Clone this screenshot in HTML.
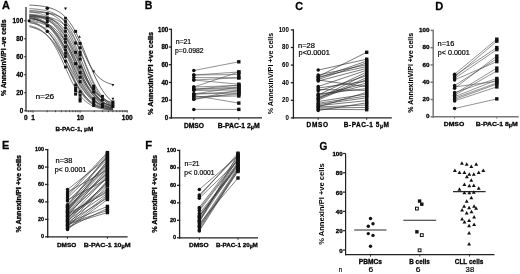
<!DOCTYPE html>
<html><head><meta charset="utf-8"><style>
html,body{margin:0;padding:0;background:#fff;width:520px;height:274px;overflow:hidden;}
svg{display:block;font-family:"Liberation Sans", sans-serif;filter:grayscale(1);}
</style></head><body>
<svg width="520" height="274" viewBox="0 0 520 274">
<rect width="520" height="274" fill="#fff"/>
<text x="2.10" y="9.00" font-size="11.4" font-weight="bold" stroke="#000" stroke-width="0.28" text-anchor="start" fill="#000" textLength="7.90" lengthAdjust="spacingAndGlyphs">A</text>
<line x1="26.00" y1="7.00" x2="26.00" y2="111.50" stroke="#222" stroke-width="1.2"/>
<line x1="24.20" y1="110.75" x2="26.00" y2="110.75" stroke="#222" stroke-width="1.1"/>
<text x="23.20" y="113.10" font-size="6.5" font-weight="bold" stroke="#000" stroke-width="0.28" text-anchor="end" fill="#000" textLength="3.53" lengthAdjust="spacingAndGlyphs">0</text>
<line x1="24.20" y1="92.75" x2="26.00" y2="92.75" stroke="#222" stroke-width="1.1"/>
<text x="23.20" y="95.10" font-size="6.5" font-weight="bold" stroke="#000" stroke-width="0.28" text-anchor="end" fill="#000" textLength="7.07" lengthAdjust="spacingAndGlyphs">20</text>
<line x1="24.20" y1="74.75" x2="26.00" y2="74.75" stroke="#222" stroke-width="1.1"/>
<text x="23.20" y="77.10" font-size="6.5" font-weight="bold" stroke="#000" stroke-width="0.28" text-anchor="end" fill="#000" textLength="7.07" lengthAdjust="spacingAndGlyphs">40</text>
<line x1="24.20" y1="56.75" x2="26.00" y2="56.75" stroke="#222" stroke-width="1.1"/>
<text x="23.20" y="59.10" font-size="6.5" font-weight="bold" stroke="#000" stroke-width="0.28" text-anchor="end" fill="#000" textLength="7.07" lengthAdjust="spacingAndGlyphs">60</text>
<line x1="24.20" y1="38.75" x2="26.00" y2="38.75" stroke="#222" stroke-width="1.1"/>
<text x="23.20" y="41.10" font-size="6.5" font-weight="bold" stroke="#000" stroke-width="0.28" text-anchor="end" fill="#000" textLength="7.07" lengthAdjust="spacingAndGlyphs">80</text>
<line x1="24.20" y1="20.75" x2="26.00" y2="20.75" stroke="#222" stroke-width="1.1"/>
<text x="23.20" y="23.10" font-size="6.5" font-weight="bold" stroke="#000" stroke-width="0.28" text-anchor="end" fill="#000" textLength="10.60" lengthAdjust="spacingAndGlyphs">100</text>
<line x1="26.00" y1="111.00" x2="127.60" y2="111.00" stroke="#333" stroke-width="1.0"/>
<line x1="33.00" y1="110.50" x2="33.00" y2="112.60" stroke="#333" stroke-width="0.9"/>
<line x1="47.18" y1="110.50" x2="47.18" y2="112.20" stroke="#333" stroke-width="0.9"/>
<line x1="55.47" y1="110.50" x2="55.47" y2="112.20" stroke="#333" stroke-width="0.9"/>
<line x1="61.36" y1="110.50" x2="61.36" y2="112.20" stroke="#333" stroke-width="0.9"/>
<line x1="65.92" y1="110.50" x2="65.92" y2="112.20" stroke="#333" stroke-width="0.9"/>
<line x1="69.65" y1="110.50" x2="69.65" y2="112.20" stroke="#333" stroke-width="0.9"/>
<line x1="72.80" y1="110.50" x2="72.80" y2="112.20" stroke="#333" stroke-width="0.9"/>
<line x1="75.54" y1="110.50" x2="75.54" y2="112.20" stroke="#333" stroke-width="0.9"/>
<line x1="77.94" y1="110.50" x2="77.94" y2="112.20" stroke="#333" stroke-width="0.9"/>
<line x1="80.10" y1="110.50" x2="80.10" y2="112.60" stroke="#333" stroke-width="0.9"/>
<line x1="94.28" y1="110.50" x2="94.28" y2="112.20" stroke="#333" stroke-width="0.9"/>
<line x1="102.57" y1="110.50" x2="102.57" y2="112.20" stroke="#333" stroke-width="0.9"/>
<line x1="108.46" y1="110.50" x2="108.46" y2="112.20" stroke="#333" stroke-width="0.9"/>
<line x1="113.02" y1="110.50" x2="113.02" y2="112.20" stroke="#333" stroke-width="0.9"/>
<line x1="116.75" y1="110.50" x2="116.75" y2="112.20" stroke="#333" stroke-width="0.9"/>
<line x1="119.90" y1="110.50" x2="119.90" y2="112.20" stroke="#333" stroke-width="0.9"/>
<line x1="122.64" y1="110.50" x2="122.64" y2="112.20" stroke="#333" stroke-width="0.9"/>
<line x1="125.04" y1="110.50" x2="125.04" y2="112.20" stroke="#333" stroke-width="0.9"/>
<line x1="127.20" y1="110.50" x2="127.20" y2="112.60" stroke="#333" stroke-width="0.9"/>
<line x1="28.44" y1="110.50" x2="28.44" y2="112.20" stroke="#333" stroke-width="0.9"/>
<line x1="30.84" y1="110.50" x2="30.84" y2="112.20" stroke="#333" stroke-width="0.9"/>
<text x="25.75" y="119.70" font-size="6.5" font-weight="bold" stroke="#000" stroke-width="0.28" text-anchor="middle" fill="#000">0</text>
<text x="33.00" y="119.70" font-size="6.5" font-weight="bold" stroke="#000" stroke-width="0.28" text-anchor="middle" fill="#000">1</text>
<text x="80.25" y="119.70" font-size="6.5" font-weight="bold" stroke="#000" stroke-width="0.28" text-anchor="middle" fill="#000">10</text>
<text x="127.20" y="119.70" font-size="6.5" font-weight="bold" stroke="#000" stroke-width="0.28" text-anchor="middle" fill="#000">100</text>
<text x="55.40" y="130.60" font-size="6.1" font-weight="bold" stroke="#000" stroke-width="0.28" text-anchor="start" fill="#000" textLength="37.80" lengthAdjust="spacingAndGlyphs">B-PAC-1, μM</text>
<text x="35.40" y="99.20" font-size="7.8" stroke="#000" stroke-width="0.2" text-anchor="start" fill="#000" textLength="18.90" lengthAdjust="spacingAndGlyphs">n=26</text>
<text x="6.08" y="57.80" font-size="6.6" font-weight="bold" stroke="#000" stroke-width="0.3" text-anchor="middle" fill="#000" transform="rotate(-90 6.08 57.80)" textLength="76.60" lengthAdjust="spacingAndGlyphs" dy="0">% AnnexinV/PI -ve cells</text>
<polyline points="29.43,5.05 30.37,5.10 31.31,5.15 32.25,5.20 33.19,5.26 34.13,5.33 35.07,5.40 36.01,5.47 36.95,5.56 37.89,5.65 38.83,5.75 39.76,5.86 40.70,5.97 41.64,6.10 42.58,6.24 43.52,6.39 44.46,6.56 45.40,6.74 46.34,6.93 47.28,7.14 48.22,7.37 49.16,7.62 50.10,7.89 51.03,8.19 51.97,8.51 52.91,8.85 53.85,9.23 54.79,9.63 55.73,10.07 56.67,10.55 57.61,11.06 58.55,11.62 59.49,12.21 60.43,12.86 61.37,13.55 62.31,14.30 63.24,15.10 64.18,15.95 65.12,16.87 66.06,17.86 67.00,18.91 67.94,20.02 68.88,21.21 69.82,22.47 70.76,23.81 71.70,25.23 72.64,26.72 73.58,28.29 74.51,29.93 75.45,31.66 76.39,33.45 77.33,35.33 78.27,37.27 79.21,39.27 80.15,41.34 81.09,43.47 82.03,45.64 82.97,47.86 83.91,50.12 84.85,52.40 85.78,54.70 86.72,57.01 87.66,59.33 88.60,61.64 89.54,63.93 90.48,66.20 91.42,68.44 92.36,70.64 93.30,72.79 94.24,74.89 95.18,76.94 96.12,78.91 97.06,80.82 97.99,82.66 98.93,84.43 99.87,86.12 100.81,87.73 101.75,89.26 102.69,90.72 103.63,92.10 104.57,93.40 105.51,94.63 106.45,95.79 107.39,96.87 108.33,97.89 109.26,98.85 110.20,99.74 111.14,100.57 112.08,101.35 113.02,102.07" fill="none" stroke="#222" stroke-width="0.7"/>
<polyline points="29.43,8.65 30.37,8.70 31.31,8.75 32.25,8.81 33.19,8.87 34.13,8.94 35.07,9.01 36.01,9.10 36.95,9.19 37.89,9.29 38.83,9.39 39.76,9.51 40.70,9.64 41.64,9.78 42.58,9.94 43.52,10.11 44.46,10.29 45.40,10.49 46.34,10.71 47.28,10.95 48.22,11.21 49.16,11.50 50.10,11.81 51.03,12.14 51.97,12.51 52.91,12.91 53.85,13.35 54.79,13.82 55.73,14.33 56.67,14.89 57.61,15.49 58.55,16.14 59.49,16.84 60.43,17.60 61.37,18.42 62.31,19.30 63.24,20.24 64.18,21.26 65.12,22.35 66.06,23.51 67.00,24.74 67.94,26.06 68.88,27.46 69.82,28.94 70.76,30.50 71.70,32.15 72.64,33.88 73.58,35.69 74.51,37.58 75.45,39.54 76.39,41.58 77.33,43.68 78.27,45.84 79.21,48.06 80.15,50.32 81.09,52.62 82.03,54.94 82.97,57.29 83.91,59.64 84.85,62.00 85.78,64.34 86.72,66.66 87.66,68.95 88.60,71.21 89.54,73.41 90.48,75.57 91.42,77.66 92.36,79.68 93.30,81.64 94.24,83.51 95.18,85.31 96.12,87.02 97.06,88.66 97.99,90.21 98.93,91.68 99.87,93.06 100.81,94.36 101.75,95.59 102.69,96.74 103.63,97.81 104.57,98.82 105.51,99.75 106.45,100.62 107.39,101.43 108.33,102.18 109.26,102.87 110.20,103.51 111.14,104.11 112.08,104.66 113.02,105.16" fill="none" stroke="#444" stroke-width="0.7"/>
<polyline points="29.43,10.44 30.37,10.49 31.31,10.54 32.25,10.60 33.19,10.67 34.13,10.74 35.07,10.82 36.01,10.91 36.95,11.00 37.89,11.11 38.83,11.22 39.76,11.35 40.70,11.49 41.64,11.64 42.58,11.81 43.52,12.00 44.46,12.20 45.40,12.42 46.34,12.67 47.28,12.93 48.22,13.22 49.16,13.54 50.10,13.89 51.03,14.27 51.97,14.69 52.91,15.14 53.85,15.64 54.79,16.18 55.73,16.77 56.67,17.41 57.61,18.10 58.55,18.85 59.49,19.66 60.43,20.54 61.37,21.49 62.31,22.51 63.24,23.60 64.18,24.78 65.12,26.03 66.06,27.37 67.00,28.80 67.94,30.32 68.88,31.92 69.82,33.61 70.76,35.39 71.70,37.26 72.64,39.21 73.58,41.23 74.51,43.33 75.45,45.50 76.39,47.72 77.33,50.00 78.27,52.32 79.21,54.67 80.15,57.04 81.09,59.43 82.03,61.81 82.97,64.19 83.91,66.54 84.85,68.86 85.78,71.13 86.72,73.36 87.66,75.53 88.60,77.63 89.54,79.66 90.48,81.60 91.42,83.47 92.36,85.25 93.30,86.95 94.24,88.55 95.18,90.07 96.12,91.50 97.06,92.84 97.99,94.10 98.93,95.28 99.87,96.37 100.81,97.40 101.75,98.34 102.69,99.22 103.63,100.04 104.57,100.79 105.51,101.48 106.45,102.12 107.39,102.71 108.33,103.25 109.26,103.75 110.20,104.20 111.14,104.62 112.08,105.00 113.02,105.35" fill="none" stroke="#333" stroke-width="0.7"/>
<polyline points="29.43,11.94 30.37,12.04 31.31,12.15 32.25,12.26 33.19,12.39 34.13,12.53 35.07,12.68 36.01,12.84 36.95,13.02 37.89,13.21 38.83,13.42 39.76,13.65 40.70,13.90 41.64,14.17 42.58,14.46 43.52,14.77 44.46,15.11 45.40,15.49 46.34,15.89 47.28,16.32 48.22,16.79 49.16,17.30 50.10,17.84 51.03,18.43 51.97,19.07 52.91,19.75 53.85,20.48 54.79,21.27 55.73,22.11 56.67,23.01 57.61,23.97 58.55,25.00 59.49,26.09 60.43,27.26 61.37,28.49 62.31,29.79 63.24,31.17 64.18,32.61 65.12,34.14 66.06,35.73 67.00,37.39 67.94,39.13 68.88,40.93 69.82,42.80 70.76,44.72 71.70,46.70 72.64,48.73 73.58,50.80 74.51,52.91 75.45,55.05 76.39,57.21 77.33,59.38 78.27,61.56 79.21,63.73 80.15,65.90 81.09,68.04 82.03,70.16 82.97,72.24 83.91,74.29 84.85,76.28 85.78,78.22 86.72,80.11 87.66,81.93 88.60,83.68 89.54,85.37 90.48,86.99 91.42,88.53 92.36,90.00 93.30,91.40 94.24,92.72 95.18,93.98 96.12,95.16 97.06,96.27 97.99,97.32 98.93,98.30 99.87,99.22 100.81,100.08 101.75,100.89 102.69,101.63 103.63,102.33 104.57,102.98 105.51,103.58 106.45,104.14 107.39,104.66 108.33,105.14 109.26,105.58 110.20,106.00 111.14,106.38 112.08,106.73 113.02,107.05" fill="none" stroke="#555" stroke-width="0.7"/>
<polyline points="29.43,11.91 30.37,11.92 31.31,11.94 32.25,11.97 33.19,11.99 34.13,12.02 35.07,12.05 36.01,12.09 36.95,12.12 37.89,12.17 38.83,12.22 39.76,12.27 40.70,12.33 41.64,12.40 42.58,12.47 43.52,12.55 44.46,12.65 45.40,12.75 46.34,12.86 47.28,12.99 48.22,13.13 49.16,13.29 50.10,13.47 51.03,13.66 51.97,13.88 52.91,14.12 53.85,14.39 54.79,14.68 55.73,15.01 56.67,15.37 57.61,15.77 58.55,16.21 59.49,16.69 60.43,17.23 61.37,17.81 62.31,18.45 63.24,19.16 64.18,19.93 65.12,20.76 66.06,21.68 67.00,22.66 67.94,23.73 68.88,24.88 69.82,26.12 70.76,27.44 71.70,28.85 72.64,30.34 73.58,31.92 74.51,33.59 75.45,35.33 76.39,37.14 77.33,39.02 78.27,40.95 79.21,42.94 80.15,44.95 81.09,47.00 82.03,49.05 82.97,51.11 83.91,53.15 84.85,55.17 85.78,57.16 86.72,59.09 87.66,60.97 88.60,62.79 89.54,64.53 90.48,66.20 91.42,67.79 92.36,69.29 93.30,70.70 94.24,72.03 95.18,73.27 96.12,74.42 97.06,75.49 97.99,76.48 98.93,77.40 99.87,78.24 100.81,79.01 101.75,79.71 102.69,80.36 103.63,80.95 104.57,81.48 105.51,81.97 106.45,82.41 107.39,82.81 108.33,83.18 109.26,83.50 110.20,83.80 111.14,84.07 112.08,84.31 113.02,84.53" fill="none" stroke="#2a2a2a" stroke-width="0.7"/>
<polyline points="29.43,16.29 30.37,16.52 31.31,16.77 32.25,17.04 33.19,17.33 34.13,17.64 35.07,17.97 36.01,18.34 36.95,18.73 37.89,19.15 38.83,19.60 39.76,20.09 40.70,20.61 41.64,21.17 42.58,21.77 43.52,22.41 44.46,23.10 45.40,23.84 46.34,24.62 47.28,25.46 48.22,26.35 49.16,27.30 50.10,28.30 51.03,29.37 51.97,30.49 52.91,31.68 53.85,32.93 54.79,34.24 55.73,35.62 56.67,37.06 57.61,38.57 58.55,40.13 59.49,41.76 60.43,43.44 61.37,45.18 62.31,46.97 63.24,48.80 64.18,50.68 65.12,52.59 66.06,54.54 67.00,56.51 67.94,58.50 68.88,60.50 69.82,62.51 70.76,64.52 71.70,66.51 72.64,68.50 73.58,70.46 74.51,72.39 75.45,74.30 76.39,76.16 77.33,77.98 78.27,79.75 79.21,81.47 80.15,83.13 81.09,84.73 82.03,86.28 82.97,87.76 83.91,89.18 84.85,90.53 85.78,91.83 86.72,93.05 87.66,94.22 88.60,95.32 89.54,96.36 90.48,97.35 91.42,98.27 92.36,99.15 93.30,99.96 94.24,100.73 95.18,101.45 96.12,102.12 97.06,102.75 97.99,103.34 98.93,103.88 99.87,104.39 100.81,104.87 101.75,105.31 102.69,105.72 103.63,106.10 104.57,106.45 105.51,106.78 106.45,107.08 107.39,107.36 108.33,107.62 109.26,107.86 110.20,108.08 111.14,108.29 112.08,108.48 113.02,108.66" fill="none" stroke="#666" stroke-width="0.7"/>
<polyline points="29.43,16.33 30.37,16.50 31.31,16.68 32.25,16.88 33.19,17.09 34.13,17.33 35.07,17.58 36.01,17.86 36.95,18.15 37.89,18.48 38.83,18.83 39.76,19.21 40.70,19.62 41.64,20.06 42.58,20.54 43.52,21.06 44.46,21.62 45.40,22.22 46.34,22.86 47.28,23.56 48.22,24.30 49.16,25.10 50.10,25.95 51.03,26.87 51.97,27.84 52.91,28.88 53.85,29.98 54.79,31.15 55.73,32.39 56.67,33.70 57.61,35.08 58.55,36.53 59.49,38.05 60.43,39.64 61.37,41.29 62.31,43.02 63.24,44.80 64.18,46.64 65.12,48.54 66.06,50.48 67.00,52.47 67.94,54.49 68.88,56.55 69.82,58.62 70.76,60.72 71.70,62.82 72.64,64.91 73.58,67.00 74.51,69.08 75.45,71.13 76.39,73.14 77.33,75.12 78.27,77.06 79.21,78.94 80.15,80.77 81.09,82.54 82.03,84.25 82.97,85.89 83.91,87.47 84.85,88.97 85.78,90.41 86.72,91.77 87.66,93.07 88.60,94.29 89.54,95.45 90.48,96.54 91.42,97.56 92.36,98.52 93.30,99.43 94.24,100.27 95.18,101.06 96.12,101.79 97.06,102.47 97.99,103.11 98.93,103.70 99.87,104.25 100.81,104.76 101.75,105.23 102.69,105.67 103.63,106.07 104.57,106.45 105.51,106.79 106.45,107.11 107.39,107.40 108.33,107.67 109.26,107.92 110.20,108.15 111.14,108.36 112.08,108.56 113.02,108.74" fill="none" stroke="#404040" stroke-width="0.7"/>
<polyline points="29.43,17.40 30.37,17.58 31.31,17.76 32.25,17.97 33.19,18.18 34.13,18.42 35.07,18.68 36.01,18.95 36.95,19.25 37.89,19.57 38.83,19.92 39.76,20.29 40.70,20.69 41.64,21.13 42.58,21.59 43.52,22.09 44.46,22.63 45.40,23.20 46.34,23.82 47.28,24.48 48.22,25.18 49.16,25.94 50.10,26.74 51.03,27.59 51.97,28.50 52.91,29.47 53.85,30.49 54.79,31.58 55.73,32.72 56.67,33.92 57.61,35.19 58.55,36.52 59.49,37.91 60.43,39.37 61.37,40.88 62.31,42.46 63.24,44.09 64.18,45.78 65.12,47.52 66.06,49.30 67.00,51.13 67.94,53.00 68.88,54.89 69.82,56.82 70.76,58.77 71.70,60.73 72.64,62.70 73.58,64.67 74.51,66.63 75.45,68.59 76.39,70.52 77.33,72.43 78.27,74.31 79.21,76.15 80.15,77.95 81.09,79.71 82.03,81.41 82.97,83.06 83.91,84.66 84.85,86.20 85.78,87.67 86.72,89.09 87.66,90.44 88.60,91.73 89.54,92.96 90.48,94.12 91.42,95.23 92.36,96.27 93.30,97.26 94.24,98.19 95.18,99.06 96.12,99.88 97.06,100.65 97.99,101.38 98.93,102.05 99.87,102.68 100.81,103.27 101.75,103.82 102.69,104.34 103.63,104.81 104.57,105.26 105.51,105.67 106.45,106.05 107.39,106.41 108.33,106.74 109.26,107.04 110.20,107.33 111.14,107.59 112.08,107.83 113.02,108.06" fill="none" stroke="#777" stroke-width="0.7"/>
<polyline points="29.43,14.72 30.37,14.83 31.31,14.95 32.25,15.09 33.19,15.23 34.13,15.39 35.07,15.56 36.01,15.75 36.95,15.96 37.89,16.18 38.83,16.43 39.76,16.70 40.70,16.99 41.64,17.31 42.58,17.65 43.52,18.03 44.46,18.44 45.40,18.88 46.34,19.36 47.28,19.88 48.22,20.45 49.16,21.06 50.10,21.72 51.03,22.43 51.97,23.19 52.91,24.02 53.85,24.90 54.79,25.85 55.73,26.87 56.67,27.96 57.61,29.11 58.55,30.35 59.49,31.65 60.43,33.03 61.37,34.49 62.31,36.03 63.24,37.64 64.18,39.32 65.12,41.08 66.06,42.90 67.00,44.79 67.94,46.74 68.88,48.75 69.82,50.80 70.76,52.89 71.70,55.01 72.64,57.16 73.58,59.32 74.51,61.49 75.45,63.66 76.39,65.81 77.33,67.94 78.27,70.05 79.21,72.11 80.15,74.14 81.09,76.11 82.03,78.02 82.97,79.87 83.91,81.65 84.85,83.36 85.78,85.00 86.72,86.56 87.66,88.05 88.60,89.46 89.54,90.79 90.48,92.05 91.42,93.23 92.36,94.34 93.30,95.38 94.24,96.36 95.18,97.27 96.12,98.11 97.06,98.90 97.99,99.63 98.93,100.31 99.87,100.94 100.81,101.52 101.75,102.06 102.69,102.55 103.63,103.01 104.57,103.43 105.51,103.82 106.45,104.17 107.39,104.50 108.33,104.80 109.26,105.08 110.20,105.33 111.14,105.56 112.08,105.78 113.02,105.97" fill="none" stroke="#222" stroke-width="0.7"/>
<polyline points="29.43,18.26 30.37,18.41 31.31,18.59 32.25,18.77 33.19,18.97 34.13,19.18 35.07,19.41 36.01,19.66 36.95,19.93 37.89,20.21 38.83,20.52 39.76,20.85 40.70,21.20 41.64,21.58 42.58,21.99 43.52,22.42 44.46,22.89 45.40,23.39 46.34,23.92 47.28,24.49 48.22,25.10 49.16,25.74 50.10,26.43 51.03,27.16 51.97,27.94 52.91,28.76 53.85,29.63 54.79,30.55 55.73,31.53 56.67,32.55 57.61,33.63 58.55,34.77 59.49,35.96 60.43,37.20 61.37,38.50 62.31,39.86 63.24,41.27 64.18,42.73 65.12,44.24 66.06,45.80 67.00,47.41 67.94,49.06 68.88,50.75 69.82,52.48 70.76,54.24 71.70,56.03 72.64,57.83 73.58,59.66 74.51,61.50 75.45,63.34 76.39,65.18 77.33,67.02 78.27,68.85 79.21,70.66 80.15,72.45 81.09,74.21 82.03,75.95 82.97,77.65 83.91,79.30 84.85,80.92 85.78,82.49 86.72,84.01 87.66,85.48 88.60,86.90 89.54,88.27 90.48,89.58 91.42,90.83 92.36,92.03 93.30,93.17 94.24,94.26 95.18,95.30 96.12,96.28 97.06,97.21 97.99,98.09 98.93,98.92 99.87,99.71 100.81,100.45 101.75,101.14 102.69,101.79 103.63,102.41 104.57,102.98 105.51,103.52 106.45,104.03 107.39,104.50 108.33,104.94 109.26,105.35 110.20,105.73 111.14,106.09 112.08,106.42 113.02,106.74" fill="none" stroke="#444" stroke-width="0.7"/>
<polyline points="29.43,15.17 30.37,15.25 31.31,15.32 32.25,15.41 33.19,15.51 34.13,15.61 35.07,15.73 36.01,15.86 36.95,16.00 37.89,16.15 38.83,16.32 39.76,16.51 40.70,16.71 41.64,16.93 42.58,17.18 43.52,17.45 44.46,17.74 45.40,18.06 46.34,18.41 47.28,18.79 48.22,19.21 49.16,19.67 50.10,20.16 51.03,20.70 51.97,21.29 52.91,21.93 53.85,22.62 54.79,23.37 55.73,24.19 56.67,25.06 57.61,26.01 58.55,27.03 59.49,28.12 60.43,29.29 61.37,30.54 62.31,31.87 63.24,33.29 64.18,34.80 65.12,36.39 66.06,38.06 67.00,39.82 67.94,41.66 68.88,43.59 69.82,45.58 70.76,47.65 71.70,49.77 72.64,51.96 73.58,54.19 74.51,56.45 75.45,58.75 76.39,61.06 77.33,63.38 78.27,65.70 79.21,68.00 80.15,70.28 81.09,72.53 82.03,74.72 82.97,76.87 83.91,78.96 84.85,80.98 85.78,82.92 86.72,84.79 87.66,86.58 88.60,88.28 89.54,89.90 90.48,91.43 91.42,92.88 92.36,94.24 93.30,95.52 94.24,96.71 95.18,97.83 96.12,98.87 97.06,99.84 97.99,100.74 98.93,101.57 99.87,102.34 100.81,103.05 101.75,103.71 102.69,104.31 103.63,104.87 104.57,105.38 105.51,105.85 106.45,106.28 107.39,106.67 108.33,107.03 109.26,107.36 110.20,107.66 111.14,107.94 112.08,108.19 113.02,108.42" fill="none" stroke="#333" stroke-width="0.7"/>
<polyline points="29.43,16.31 30.37,16.40 31.31,16.49 32.25,16.60 33.19,16.71 34.13,16.83 35.07,16.96 36.01,17.11 36.95,17.26 37.89,17.43 38.83,17.62 39.76,17.82 40.70,18.04 41.64,18.28 42.58,18.53 43.52,18.81 44.46,19.12 45.40,19.44 46.34,19.80 47.28,20.18 48.22,20.60 49.16,21.05 50.10,21.53 51.03,22.05 51.97,22.62 52.91,23.22 53.85,23.87 54.79,24.57 55.73,25.32 56.67,26.12 57.61,26.98 58.55,27.89 59.49,28.87 60.43,29.91 61.37,31.01 62.31,32.17 63.24,33.40 64.18,34.70 65.12,36.07 66.06,37.50 67.00,39.00 67.94,40.57 68.88,42.19 69.82,43.88 70.76,45.62 71.70,47.42 72.64,49.26 73.58,51.15 74.51,53.07 75.45,55.02 76.39,57.00 77.33,58.99 78.27,60.99 79.21,62.99 80.15,64.98 81.09,66.96 82.03,68.92 82.97,70.85 83.91,72.75 84.85,74.61 85.78,76.41 86.72,78.17 87.66,79.87 88.60,81.51 89.54,83.10 90.48,84.61 91.42,86.06 92.36,87.45 93.30,88.76 94.24,90.01 95.18,91.19 96.12,92.31 97.06,93.37 97.99,94.36 98.93,95.29 99.87,96.16 100.81,96.98 101.75,97.74 102.69,98.45 103.63,99.11 104.57,99.73 105.51,100.30 106.45,100.84 107.39,101.33 108.33,101.79 109.26,102.21 110.20,102.60 111.14,102.97 112.08,103.30 113.02,103.61" fill="none" stroke="#555" stroke-width="0.7"/>
<polyline points="29.43,20.73 30.37,21.01 31.31,21.31 32.25,21.63 33.19,21.97 34.13,22.34 35.07,22.74 36.01,23.16 36.95,23.62 37.89,24.10 38.83,24.62 39.76,25.18 40.70,25.77 41.64,26.40 42.58,27.07 43.52,27.78 44.46,28.54 45.40,29.35 46.34,30.20 47.28,31.10 48.22,32.05 49.16,33.06 50.10,34.11 51.03,35.23 51.97,36.39 52.91,37.61 53.85,38.89 54.79,40.22 55.73,41.60 56.67,43.04 57.61,44.52 58.55,46.06 59.49,47.64 60.43,49.27 61.37,50.93 62.31,52.64 63.24,54.37 64.18,56.14 65.12,57.92 66.06,59.73 67.00,61.54 67.94,63.37 68.88,65.19 69.82,67.02 70.76,68.83 71.70,70.63 72.64,72.41 73.58,74.16 74.51,75.88 75.45,77.57 76.39,79.23 77.33,80.84 78.27,82.40 79.21,83.92 80.15,85.39 81.09,86.81 82.03,88.17 82.97,89.48 83.91,90.74 84.85,91.94 85.78,93.08 86.72,94.17 87.66,95.21 88.60,96.20 89.54,97.13 90.48,98.02 91.42,98.85 92.36,99.64 93.30,100.38 94.24,101.08 95.18,101.73 96.12,102.35 97.06,102.93 97.99,103.47 98.93,103.98 99.87,104.45 100.81,104.89 101.75,105.31 102.69,105.70 103.63,106.06 104.57,106.39 105.51,106.70 106.45,107.00 107.39,107.27 108.33,107.52 109.26,107.75 110.20,107.97 111.14,108.18 112.08,108.36 113.02,108.54" fill="none" stroke="#2a2a2a" stroke-width="0.7"/>
<polyline points="29.43,17.90 30.37,18.06 31.31,18.23 32.25,18.41 33.19,18.61 34.13,18.84 35.07,19.08 36.01,19.34 36.95,19.63 37.89,19.94 38.83,20.28 39.76,20.65 40.70,21.05 41.64,21.49 42.58,21.96 43.52,22.47 44.46,23.03 45.40,23.63 46.34,24.28 47.28,24.98 48.22,25.73 49.16,26.55 50.10,27.42 51.03,28.36 51.97,29.36 52.91,30.43 53.85,31.57 54.79,32.79 55.73,34.08 56.67,35.45 57.61,36.89 58.55,38.41 59.49,40.01 60.43,41.68 61.37,43.42 62.31,45.23 63.24,47.11 64.18,49.04 65.12,51.04 66.06,53.08 67.00,55.16 67.94,57.28 68.88,59.42 69.82,61.58 70.76,63.75 71.70,65.92 72.64,68.08 73.58,70.21 74.51,72.32 75.45,74.40 76.39,76.43 77.33,78.41 78.27,80.34 79.21,82.20 80.15,83.99 81.09,85.72 82.03,87.37 82.97,88.95 83.91,90.45 84.85,91.88 85.78,93.23 86.72,94.50 87.66,95.70 88.60,96.82 89.54,97.88 90.48,98.87 91.42,99.79 92.36,100.65 93.30,101.45 94.24,102.19 95.18,102.88 96.12,103.52 97.06,104.11 97.99,104.65 98.93,105.15 99.87,105.62 100.81,106.05 101.75,106.44 102.69,106.80 103.63,107.14 104.57,107.44 105.51,107.72 106.45,107.98 107.39,108.22 108.33,108.43 109.26,108.63 110.20,108.81 111.14,108.98 112.08,109.13 113.02,109.27" fill="none" stroke="#666" stroke-width="0.7"/>
<polyline points="29.43,17.45 30.37,17.67 31.31,17.91 32.25,18.16 33.19,18.43 34.13,18.72 35.07,19.03 36.01,19.36 36.95,19.72 37.89,20.09 38.83,20.50 39.76,20.93 40.70,21.39 41.64,21.87 42.58,22.39 43.52,22.95 44.46,23.53 45.40,24.15 46.34,24.81 47.28,25.51 48.22,26.25 49.16,27.04 50.10,27.86 51.03,28.73 51.97,29.65 52.91,30.61 53.85,31.63 54.79,32.69 55.73,33.80 56.67,34.96 57.61,36.17 58.55,37.43 59.49,38.74 60.43,40.10 61.37,41.51 62.31,42.96 63.24,44.45 64.18,45.99 65.12,47.57 66.06,49.18 67.00,50.83 67.94,52.51 68.88,54.21 69.82,55.94 70.76,57.68 71.70,59.43 72.64,61.20 73.58,62.97 74.51,64.73 75.45,66.50 76.39,68.25 77.33,69.98 78.27,71.70 79.21,73.39 80.15,75.06 81.09,76.69 82.03,78.29 82.97,79.85 83.91,81.37 84.85,82.85 85.78,84.28 86.72,85.67 87.66,87.01 88.60,88.30 89.54,89.54 90.48,90.73 91.42,91.87 92.36,92.96 93.30,94.00 94.24,94.99 95.18,95.94 96.12,96.83 97.06,97.69 97.99,98.49 98.93,99.26 99.87,99.98 100.81,100.66 101.75,101.31 102.69,101.92 103.63,102.49 104.57,103.03 105.51,103.53 106.45,104.01 107.39,104.45 108.33,104.87 109.26,105.27 110.20,105.63 111.14,105.98 112.08,106.30 113.02,106.60" fill="none" stroke="#404040" stroke-width="0.7"/>
<polyline points="29.43,16.03 30.37,16.11 31.31,16.19 32.25,16.27 33.19,16.37 34.13,16.48 35.07,16.60 36.01,16.73 36.95,16.87 37.89,17.03 38.83,17.20 39.76,17.40 40.70,17.61 41.64,17.84 42.58,18.10 43.52,18.39 44.46,18.70 45.40,19.04 46.34,19.41 47.28,19.83 48.22,20.28 49.16,20.77 50.10,21.31 51.03,21.90 51.97,22.54 52.91,23.25 53.85,24.01 54.79,24.84 55.73,25.74 56.67,26.71 57.61,27.76 58.55,28.89 59.49,30.11 60.43,31.41 61.37,32.81 62.31,34.29 63.24,35.87 64.18,37.55 65.12,39.31 66.06,41.17 67.00,43.12 67.94,45.15 68.88,47.26 69.82,49.43 70.76,51.68 71.70,53.98 72.64,56.32 73.58,58.69 74.51,61.09 75.45,63.50 76.39,65.91 77.33,68.30 78.27,70.66 79.21,72.99 80.15,75.27 81.09,77.49 82.03,79.64 82.97,81.72 83.91,83.72 84.85,85.63 85.78,87.46 86.72,89.19 87.66,90.83 88.60,92.37 89.54,93.83 90.48,95.19 91.42,96.46 92.36,97.64 93.30,98.74 94.24,99.76 95.18,100.71 96.12,101.58 97.06,102.38 97.99,103.12 98.93,103.80 99.87,104.43 100.81,105.00 101.75,105.52 102.69,106.00 103.63,106.43 104.57,106.83 105.51,107.19 106.45,107.52 107.39,107.82 108.33,108.10 109.26,108.35 110.20,108.57 111.14,108.78 112.08,108.96 113.02,109.13" fill="none" stroke="#777" stroke-width="0.7"/>
<polyline points="29.43,18.57 30.37,18.69 31.31,18.82 32.25,18.96 33.19,19.11 34.13,19.28 35.07,19.46 36.01,19.65 36.95,19.86 37.89,20.09 38.83,20.33 39.76,20.59 40.70,20.88 41.64,21.18 42.58,21.51 43.52,21.87 44.46,22.25 45.40,22.67 46.34,23.11 47.28,23.59 48.22,24.10 49.16,24.65 50.10,25.23 51.03,25.86 51.97,26.53 52.91,27.25 53.85,28.01 54.79,28.83 55.73,29.69 56.67,30.61 57.61,31.58 58.55,32.61 59.49,33.69 60.43,34.84 61.37,36.04 62.31,37.30 63.24,38.61 64.18,39.99 65.12,41.42 66.06,42.91 67.00,44.45 67.94,46.03 68.88,47.67 69.82,49.35 70.76,51.07 71.70,52.82 72.64,54.60 73.58,56.41 74.51,58.23 75.45,60.06 76.39,61.90 77.33,63.74 78.27,65.58 79.21,67.40 80.15,69.20 81.09,70.97 82.03,72.72 82.97,74.43 83.91,76.10 84.85,77.72 85.78,79.30 86.72,80.83 87.66,82.30 88.60,83.72 89.54,85.09 90.48,86.39 91.42,87.64 92.36,88.82 93.30,89.95 94.24,91.03 95.18,92.04 96.12,93.00 97.06,93.91 97.99,94.76 98.93,95.56 99.87,96.31 100.81,97.02 101.75,97.68 102.69,98.30 103.63,98.88 104.57,99.42 105.51,99.92 106.45,100.39 107.39,100.83 108.33,101.23 109.26,101.61 110.20,101.96 111.14,102.29 112.08,102.59 113.02,102.87" fill="none" stroke="#222" stroke-width="0.7"/>
<polyline points="29.43,14.26 30.37,14.33 31.31,14.40 32.25,14.48 33.19,14.57 34.13,14.67 35.07,14.77 36.01,14.89 36.95,15.02 37.89,15.15 38.83,15.31 39.76,15.47 40.70,15.65 41.64,15.85 42.58,16.07 43.52,16.30 44.46,16.56 45.40,16.84 46.34,17.14 47.28,17.47 48.22,17.83 49.16,18.23 50.10,18.65 51.03,19.11 51.97,19.62 52.91,20.16 53.85,20.75 54.79,21.39 55.73,22.07 56.67,22.81 57.61,23.61 58.55,24.47 59.49,25.39 60.43,26.38 61.37,27.44 62.31,28.57 63.24,29.77 64.18,31.05 65.12,32.41 66.06,33.85 67.00,35.36 67.94,36.95 68.88,38.62 69.82,40.37 70.76,42.19 71.70,44.08 72.64,46.03 73.58,48.05 74.51,50.12 75.45,52.23 76.39,54.39 77.33,56.58 78.27,58.79 79.21,61.02 80.15,63.25 81.09,65.48 82.03,67.69 82.97,69.88 83.91,72.04 84.85,74.15 85.78,76.22 86.72,78.24 87.66,80.20 88.60,82.09 89.54,83.91 90.48,85.65 91.42,87.33 92.36,88.92 93.30,90.43 94.24,91.87 95.18,93.23 96.12,94.51 97.06,95.71 97.99,96.84 98.93,97.90 99.87,98.89 100.81,99.82 101.75,100.68 102.69,101.48 103.63,102.22 104.57,102.91 105.51,103.54 106.45,104.13 107.39,104.68 108.33,105.18 109.26,105.64 110.20,106.07 111.14,106.46 112.08,106.82 113.02,107.15" fill="none" stroke="#444" stroke-width="0.7"/>
<polyline points="29.43,16.53 30.37,16.56 31.31,16.60 32.25,16.64 33.19,16.68 34.13,16.73 35.07,16.78 36.01,16.84 36.95,16.91 37.89,16.98 38.83,17.06 39.76,17.15 40.70,17.25 41.64,17.36 42.58,17.48 43.52,17.61 44.46,17.76 45.40,17.93 46.34,18.11 47.28,18.31 48.22,18.54 49.16,18.78 50.10,19.06 51.03,19.36 51.97,19.69 52.91,20.06 53.85,20.47 54.79,20.91 55.73,21.41 56.67,21.95 57.61,22.54 58.55,23.19 59.49,23.90 60.43,24.67 61.37,25.52 62.31,26.44 63.24,27.44 64.18,28.53 65.12,29.70 66.06,30.96 67.00,32.32 67.94,33.78 68.88,35.34 69.82,37.00 70.76,38.76 71.70,40.62 72.64,42.58 73.58,44.63 74.51,46.77 75.45,48.99 76.39,51.29 77.33,53.64 78.27,56.05 79.21,58.51 80.15,60.98 81.09,63.48 82.03,65.97 82.97,68.45 83.91,70.90 84.85,73.31 85.78,75.67 86.72,77.97 87.66,80.19 88.60,82.33 89.54,84.38 90.48,86.34 91.42,88.21 92.36,89.97 93.30,91.63 94.24,93.19 95.18,94.65 96.12,96.01 97.06,97.28 97.99,98.45 98.93,99.54 99.87,100.54 100.81,101.46 101.75,102.31 102.69,103.09 103.63,103.80 104.57,104.45 105.51,105.04 106.45,105.58 107.39,106.08 108.33,106.52 109.26,106.93 110.20,107.30 111.14,107.63 112.08,107.94 113.02,108.21" fill="none" stroke="#333" stroke-width="0.7"/>
<polyline points="29.43,19.72 30.37,19.86 31.31,20.03 32.25,20.20 33.19,20.39 34.13,20.60 35.07,20.83 36.01,21.07 36.95,21.34 37.89,21.63 38.83,21.94 39.76,22.28 40.70,22.64 41.64,23.04 42.58,23.47 43.52,23.93 44.46,24.43 45.40,24.97 46.34,25.54 47.28,26.17 48.22,26.84 49.16,27.56 50.10,28.33 51.03,29.15 51.97,30.03 52.91,30.97 53.85,31.97 54.79,33.04 55.73,34.17 56.67,35.36 57.61,36.62 58.55,37.95 59.49,39.35 60.43,40.82 61.37,42.35 62.31,43.94 63.24,45.60 64.18,47.32 65.12,49.09 66.06,50.92 67.00,52.79 67.94,54.71 68.88,56.66 69.82,58.64 70.76,60.64 71.70,62.65 72.64,64.67 73.58,66.69 74.51,68.70 75.45,70.70 76.39,72.67 77.33,74.61 78.27,76.51 79.21,78.38 80.15,80.19 81.09,81.95 82.03,83.65 82.97,85.29 83.91,86.87 84.85,88.39 85.78,89.83 86.72,91.21 87.66,92.52 88.60,93.77 89.54,94.94 90.48,96.05 91.42,97.10 92.36,98.09 93.30,99.01 94.24,99.88 95.18,100.69 96.12,101.44 97.06,102.15 97.99,102.80 98.93,103.42 99.87,103.98 100.81,104.51 101.75,105.00 102.69,105.45 103.63,105.87 104.57,106.26 105.51,106.62 106.45,106.95 107.39,107.25 108.33,107.54 109.26,107.80 110.20,108.04 111.14,108.26 112.08,108.46 113.02,108.65" fill="none" stroke="#555" stroke-width="0.7"/>
<polyline points="29.43,22.16 30.37,22.38 31.31,22.61 32.25,22.87 33.19,23.15 34.13,23.46 35.07,23.79 36.01,24.15 36.95,24.54 37.89,24.97 38.83,25.43 39.76,25.93 40.70,26.47 41.64,27.06 42.58,27.69 43.52,28.37 44.46,29.11 45.40,29.90 46.34,30.75 47.28,31.66 48.22,32.64 49.16,33.68 50.10,34.79 51.03,35.98 51.97,37.23 52.91,38.56 53.85,39.96 54.79,41.44 55.73,42.98 56.67,44.60 57.61,46.29 58.55,48.04 59.49,49.86 60.43,51.73 61.37,53.66 62.31,55.63 63.24,57.64 64.18,59.68 65.12,61.75 66.06,63.83 67.00,65.92 67.94,68.00 68.88,70.07 69.82,72.12 70.76,74.15 71.70,76.14 72.64,78.08 73.58,79.98 74.51,81.82 75.45,83.60 76.39,85.32 77.33,86.96 78.27,88.54 79.21,90.04 80.15,91.48 81.09,92.83 82.03,94.12 82.97,95.33 83.91,96.47 84.85,97.54 85.78,98.54 86.72,99.48 87.66,100.36 88.60,101.17 89.54,101.93 90.48,102.64 91.42,103.29 92.36,103.90 93.30,104.46 94.24,104.97 95.18,105.45 96.12,105.89 97.06,106.30 97.99,106.67 98.93,107.01 99.87,107.33 100.81,107.62 101.75,107.88 102.69,108.13 103.63,108.35 104.57,108.56 105.51,108.75 106.45,108.92 107.39,109.08 108.33,109.22 109.26,109.35 110.20,109.47 111.14,109.58 112.08,109.68 113.02,109.78" fill="none" stroke="#2a2a2a" stroke-width="0.7"/>
<polyline points="29.43,22.90 30.37,23.03 31.31,23.18 32.25,23.34 33.19,23.51 34.13,23.71 35.07,23.92 36.01,24.15 36.95,24.41 37.89,24.69 38.83,25.01 39.76,25.35 40.70,25.72 41.64,26.13 42.58,26.58 43.52,27.08 44.46,27.61 45.40,28.20 46.34,28.84 47.28,29.54 48.22,30.30 49.16,31.12 50.10,32.01 51.03,32.97 51.97,34.00 52.91,35.12 53.85,36.31 54.79,37.59 55.73,38.96 56.67,40.41 57.61,41.95 58.55,43.58 59.49,45.29 60.43,47.09 61.37,48.96 62.31,50.91 63.24,52.93 64.18,55.01 65.12,57.14 66.06,59.32 67.00,61.53 67.94,63.77 68.88,66.01 69.82,68.26 70.76,70.50 71.70,72.72 72.64,74.90 73.58,77.04 74.51,79.13 75.45,81.16 76.39,83.12 77.33,85.01 78.27,86.82 79.21,88.54 80.15,90.19 81.09,91.74 82.03,93.21 82.97,94.59 83.91,95.88 84.85,97.09 85.78,98.22 86.72,99.27 87.66,100.24 88.60,101.14 89.54,101.97 90.48,102.74 91.42,103.45 92.36,104.10 93.30,104.69 94.24,105.24 95.18,105.74 96.12,106.19 97.06,106.61 97.99,106.99 98.93,107.34 99.87,107.66 100.81,107.94 101.75,108.21 102.69,108.44 103.63,108.66 104.57,108.86 105.51,109.04 106.45,109.20 107.39,109.34 108.33,109.48 109.26,109.60 110.20,109.71 111.14,109.81 112.08,109.90 113.02,109.98" fill="none" stroke="#666" stroke-width="0.7"/>
<polyline points="29.43,25.64 30.37,25.86 31.31,26.09 32.25,26.35 33.19,26.63 34.13,26.94 35.07,27.28 36.01,27.65 36.95,28.05 37.89,28.49 38.83,28.97 39.76,29.49 40.70,30.05 41.64,30.67 42.58,31.33 43.52,32.05 44.46,32.83 45.40,33.66 46.34,34.57 47.28,35.54 48.22,36.58 49.16,37.69 50.10,38.87 51.03,40.14 51.97,41.48 52.91,42.90 53.85,44.39 54.79,45.96 55.73,47.61 56.67,49.33 57.61,51.12 58.55,52.98 59.49,54.89 60.43,56.85 61.37,58.86 62.31,60.91 63.24,62.98 64.18,65.08 65.12,67.18 66.06,69.28 67.00,71.38 67.94,73.45 68.88,75.49 69.82,77.50 70.76,79.46 71.70,81.37 72.64,83.22 73.58,85.00 74.51,86.72 75.45,88.36 76.39,89.93 77.33,91.42 78.27,92.83 79.21,94.16 80.15,95.42 81.09,96.60 82.03,97.71 82.97,98.74 83.91,99.71 84.85,100.60 85.78,101.44 86.72,102.21 87.66,102.92 88.60,103.58 89.54,104.19 90.48,104.75 91.42,105.27 92.36,105.75 93.30,106.18 94.24,106.58 95.18,106.95 96.12,107.28 97.06,107.59 97.99,107.87 98.93,108.13 99.87,108.36 100.81,108.58 101.75,108.77 102.69,108.95 103.63,109.11 104.57,109.26 105.51,109.39 106.45,109.52 107.39,109.63 108.33,109.73 109.26,109.82 110.20,109.91 111.14,109.98 112.08,110.05 113.02,110.12" fill="none" stroke="#404040" stroke-width="0.7"/>
<polyline points="29.43,21.41 30.37,21.48 31.31,21.57 32.25,21.66 33.19,21.77 34.13,21.89 35.07,22.02 36.01,22.16 36.95,22.32 37.89,22.50 38.83,22.70 39.76,22.92 40.70,23.17 41.64,23.44 42.58,23.75 43.52,24.08 44.46,24.46 45.40,24.87 46.34,25.32 47.28,25.83 48.22,26.38 49.16,26.99 50.10,27.66 51.03,28.40 51.97,29.21 52.91,30.09 53.85,31.05 54.79,32.10 55.73,33.24 56.67,34.47 57.61,35.81 58.55,37.24 59.49,38.78 60.43,40.42 61.37,42.16 62.31,44.01 63.24,45.96 64.18,48.01 65.12,50.15 66.06,52.37 67.00,54.67 67.94,57.02 68.88,59.43 69.82,61.88 70.76,64.35 71.70,66.83 72.64,69.30 73.58,71.75 74.51,74.17 75.45,76.53 76.39,78.84 77.33,81.07 78.27,83.22 79.21,85.28 80.15,87.24 81.09,89.10 82.03,90.86 82.97,92.52 83.91,94.07 84.85,95.51 85.78,96.86 86.72,98.10 87.66,99.26 88.60,100.32 89.54,101.29 90.48,102.18 91.42,103.00 92.36,103.75 93.30,104.43 94.24,105.04 95.18,105.60 96.12,106.11 97.06,106.58 97.99,106.99 98.93,107.37 99.87,107.71 100.81,108.02 101.75,108.30 102.69,108.55 103.63,108.77 104.57,108.97 105.51,109.15 106.45,109.32 107.39,109.47 108.33,109.60 109.26,109.72 110.20,109.82 111.14,109.92 112.08,110.01 113.02,110.08" fill="none" stroke="#777" stroke-width="0.7"/>
<polyline points="29.43,26.72 30.37,26.92 31.31,27.15 32.25,27.40 33.19,27.67 34.13,27.95 35.07,28.27 36.01,28.61 36.95,28.98 37.89,29.37 38.83,29.80 39.76,30.26 40.70,30.76 41.64,31.30 42.58,31.88 43.52,32.50 44.46,33.17 45.40,33.88 46.34,34.65 47.28,35.47 48.22,36.34 49.16,37.27 50.10,38.26 51.03,39.31 51.97,40.42 52.91,41.59 53.85,42.82 54.79,44.12 55.73,45.48 56.67,46.91 57.61,48.39 58.55,49.93 59.49,51.53 60.43,53.18 61.37,54.88 62.31,56.63 63.24,58.41 64.18,60.22 65.12,62.07 66.06,63.93 67.00,65.81 67.94,67.69 68.88,69.57 69.82,71.45 70.76,73.31 71.70,75.15 72.64,76.96 73.58,78.73 74.51,80.47 75.45,82.16 76.39,83.81 77.33,85.40 78.27,86.93 79.21,88.41 80.15,89.82 81.09,91.17 82.03,92.46 82.97,93.69 83.91,94.85 84.85,95.95 85.78,96.99 86.72,97.97 87.66,98.89 88.60,99.76 89.54,100.57 90.48,101.33 91.42,102.03 92.36,102.69 93.30,103.31 94.24,103.88 95.18,104.41 96.12,104.91 97.06,105.36 97.99,105.79 98.93,106.18 99.87,106.54 100.81,106.88 101.75,107.19 102.69,107.48 103.63,107.74 104.57,107.98 105.51,108.21 106.45,108.41 107.39,108.60 108.33,108.78 109.26,108.94 110.20,109.09 111.14,109.23 112.08,109.35 113.02,109.47" fill="none" stroke="#222" stroke-width="0.7"/>
<polyline points="29.43,15.60 30.37,15.63 31.31,15.66 32.25,15.69 33.19,15.72 34.13,15.76 35.07,15.81 36.01,15.86 36.95,15.91 37.89,15.97 38.83,16.03 39.76,16.11 40.70,16.19 41.64,16.27 42.58,16.37 43.52,16.48 44.46,16.60 45.40,16.73 46.34,16.87 47.28,17.03 48.22,17.21 49.16,17.40 50.10,17.61 51.03,17.85 51.97,18.10 52.91,18.39 53.85,18.70 54.79,19.04 55.73,19.42 56.67,19.83 57.61,20.28 58.55,20.77 59.49,21.31 60.43,21.90 61.37,22.55 62.31,23.25 63.24,24.01 64.18,24.84 65.12,25.74 66.06,26.71 67.00,27.77 67.94,28.90 68.88,30.11 69.82,31.42 70.76,32.82 71.70,34.30 72.64,35.88 73.58,37.56 74.51,39.33 75.45,41.18 76.39,43.13 77.33,45.16 78.27,47.27 79.21,49.45 80.15,51.69 81.09,53.99 82.03,56.33 82.97,58.71 83.91,61.11 84.85,63.52 85.78,65.92 86.72,68.31 87.66,70.68 88.60,73.00 89.54,75.28 90.48,77.50 91.42,79.65 92.36,81.73 93.30,83.73 94.24,85.64 95.18,87.47 96.12,89.20 97.06,90.84 97.99,92.38 98.93,93.83 99.87,95.19 100.81,96.47 101.75,97.65 102.69,98.75 103.63,99.77 104.57,100.71 105.51,101.59 106.45,102.39 107.39,103.13 108.33,103.81 109.26,104.43 110.20,105.00 111.14,105.52 112.08,106.00 113.02,106.44" fill="none" stroke="#444" stroke-width="0.7"/>
<circle cx="29.10" cy="20.80" r="1.5" fill="#111"/>
<circle cx="47.30" cy="8.25" r="1.8" fill="#111"/>
<rect x="45.80" y="12.30" width="3.0" height="3.0" fill="#111"/>
<rect x="45.80" y="16.70" width="3.0" height="3.0" fill="#111"/>
<rect x="45.80" y="20.00" width="3.0" height="3.0" fill="#111"/>
<rect x="45.80" y="24.40" width="3.0" height="3.0" fill="#111"/>
<circle cx="47.30" cy="31.40" r="1.7" fill="#111"/>
<path d="M65.50,10.22L67.00,7.52L64.00,7.52Z" fill="#111"/>
<rect x="64.10" y="16.80" width="2.8" height="2.8" fill="#111"/>
<rect x="64.10" y="20.10" width="2.8" height="2.8" fill="#111"/>
<rect x="64.10" y="23.40" width="2.8" height="2.8" fill="#111"/>
<rect x="64.10" y="26.60" width="2.8" height="2.8" fill="#111"/>
<rect x="64.10" y="30.00" width="2.8" height="2.8" fill="#111"/>
<rect x="64.10" y="34.30" width="2.8" height="2.8" fill="#111"/>
<rect x="64.10" y="37.60" width="2.8" height="2.8" fill="#111"/>
<rect x="64.10" y="40.90" width="2.8" height="2.8" fill="#111"/>
<rect x="64.10" y="45.30" width="2.8" height="2.8" fill="#111"/>
<rect x="64.10" y="48.60" width="2.8" height="2.8" fill="#111"/>
<rect x="64.10" y="52.00" width="2.8" height="2.8" fill="#111"/>
<rect x="64.10" y="55.10" width="2.8" height="2.8" fill="#111"/>
<rect x="64.10" y="59.90" width="2.8" height="2.8" fill="#111"/>
<rect x="64.10" y="65.60" width="2.8" height="2.8" fill="#111"/>
<rect x="74.10" y="29.90" width="3.0" height="3.0" fill="#111"/>
<rect x="74.10" y="41.50" width="3.0" height="3.0" fill="#111"/>
<rect x="74.10" y="50.80" width="3.0" height="3.0" fill="#111"/>
<rect x="74.10" y="62.10" width="3.0" height="3.0" fill="#111"/>
<rect x="74.10" y="83.60" width="3.0" height="3.0" fill="#111"/>
<rect x="74.10" y="87.00" width="3.0" height="3.0" fill="#111"/>
<rect x="74.10" y="89.30" width="3.0" height="3.0" fill="#111"/>
<rect x="74.10" y="92.60" width="3.0" height="3.0" fill="#111"/>
<path d="M79.50,35.29L80.90,37.81L78.10,37.81Z" fill="#111"/>
<rect x="78.60" y="41.90" width="3.0" height="3.0" fill="#111"/>
<rect x="78.60" y="46.30" width="3.0" height="3.0" fill="#111"/>
<rect x="78.60" y="50.80" width="3.0" height="3.0" fill="#111"/>
<rect x="78.60" y="53.50" width="3.0" height="3.0" fill="#111"/>
<rect x="78.60" y="57.50" width="3.0" height="3.0" fill="#111"/>
<rect x="78.60" y="65.50" width="3.0" height="3.0" fill="#111"/>
<rect x="78.60" y="71.10" width="3.0" height="3.0" fill="#111"/>
<rect x="78.60" y="75.70" width="3.0" height="3.0" fill="#111"/>
<rect x="78.60" y="80.20" width="3.0" height="3.0" fill="#111"/>
<rect x="78.60" y="90.40" width="3.0" height="3.0" fill="#111"/>
<rect x="78.60" y="93.80" width="3.0" height="3.0" fill="#111"/>
<rect x="78.60" y="97.20" width="3.0" height="3.0" fill="#111"/>
<rect x="78.60" y="99.50" width="3.0" height="3.0" fill="#111"/>
<path d="M93.70,73.01L95.10,70.49L92.30,70.49Z" fill="#111"/>
<rect x="92.20" y="84.70" width="3.0" height="3.0" fill="#111"/>
<rect x="92.20" y="87.00" width="3.0" height="3.0" fill="#111"/>
<rect x="92.20" y="90.40" width="3.0" height="3.0" fill="#111"/>
<rect x="92.20" y="97.20" width="3.0" height="3.0" fill="#111"/>
<rect x="92.20" y="99.50" width="3.0" height="3.0" fill="#111"/>
<rect x="92.20" y="101.70" width="3.0" height="3.0" fill="#111"/>
<rect x="92.20" y="104.00" width="3.0" height="3.0" fill="#111"/>
<rect x="100.90" y="94.90" width="3.0" height="3.0" fill="#111"/>
<rect x="100.90" y="98.30" width="3.0" height="3.0" fill="#111"/>
<rect x="100.90" y="102.80" width="3.0" height="3.0" fill="#111"/>
<rect x="100.90" y="105.10" width="3.0" height="3.0" fill="#111"/>
<path d="M112.90,86.51L114.30,83.99L111.50,83.99Z" fill="#111"/>
<path d="M112.90,100.21L114.30,97.69L111.50,97.69Z" fill="#111"/>
<rect x="111.40" y="100.50" width="3.0" height="3.0" fill="#111"/>
<rect x="111.40" y="102.80" width="3.0" height="3.0" fill="#111"/>
<rect x="111.40" y="105.10" width="3.0" height="3.0" fill="#111"/>
<text x="144.70" y="9.30" font-size="11.8" font-weight="bold" stroke="#000" stroke-width="0.28" text-anchor="start" fill="#000" textLength="7.60" lengthAdjust="spacingAndGlyphs">B</text>
<line x1="171.40" y1="29.30" x2="171.40" y2="118.55" stroke="#222" stroke-width="1.3"/>
<line x1="168.80" y1="117.90" x2="172.05" y2="117.90" stroke="#222" stroke-width="1.3"/>
<text x="168.20" y="120.20" font-size="6.4" font-weight="bold" stroke="#000" stroke-width="0.28" text-anchor="end" fill="#000" textLength="3.40" lengthAdjust="spacingAndGlyphs">0</text>
<line x1="168.80" y1="100.18" x2="172.05" y2="100.18" stroke="#222" stroke-width="1.3"/>
<text x="168.20" y="102.48" font-size="6.4" font-weight="bold" stroke="#000" stroke-width="0.28" text-anchor="end" fill="#000" textLength="6.80" lengthAdjust="spacingAndGlyphs">20</text>
<line x1="168.80" y1="82.46" x2="172.05" y2="82.46" stroke="#222" stroke-width="1.3"/>
<text x="168.20" y="84.76" font-size="6.4" font-weight="bold" stroke="#000" stroke-width="0.28" text-anchor="end" fill="#000" textLength="6.80" lengthAdjust="spacingAndGlyphs">40</text>
<line x1="168.80" y1="64.74" x2="172.05" y2="64.74" stroke="#222" stroke-width="1.3"/>
<text x="168.20" y="67.04" font-size="6.4" font-weight="bold" stroke="#000" stroke-width="0.28" text-anchor="end" fill="#000" textLength="6.80" lengthAdjust="spacingAndGlyphs">60</text>
<line x1="168.80" y1="47.02" x2="172.05" y2="47.02" stroke="#222" stroke-width="1.3"/>
<text x="168.20" y="49.32" font-size="6.4" font-weight="bold" stroke="#000" stroke-width="0.28" text-anchor="end" fill="#000" textLength="6.80" lengthAdjust="spacingAndGlyphs">80</text>
<line x1="168.80" y1="29.30" x2="172.05" y2="29.30" stroke="#222" stroke-width="1.3"/>
<text x="168.20" y="31.60" font-size="6.4" font-weight="bold" stroke="#000" stroke-width="0.28" text-anchor="end" fill="#000" textLength="10.20" lengthAdjust="spacingAndGlyphs">100</text>
<line x1="170.75" y1="117.90" x2="262.00" y2="117.90" stroke="#222" stroke-width="1.3"/>
<line x1="193.80" y1="117.90" x2="193.80" y2="119.90" stroke="#222" stroke-width="0.9"/>
<line x1="238.80" y1="117.90" x2="238.80" y2="119.90" stroke="#222" stroke-width="0.9"/>
<line x1="193.80" y1="70.50" x2="238.80" y2="61.80" stroke="#4a4a4a" stroke-width="0.6"/>
<line x1="193.80" y1="75.00" x2="238.80" y2="74.50" stroke="#4a4a4a" stroke-width="0.6"/>
<line x1="193.80" y1="75.00" x2="238.80" y2="72.00" stroke="#4a4a4a" stroke-width="0.6"/>
<line x1="193.80" y1="77.50" x2="238.80" y2="77.80" stroke="#4a4a4a" stroke-width="0.6"/>
<line x1="193.80" y1="80.00" x2="238.80" y2="84.20" stroke="#4a4a4a" stroke-width="0.6"/>
<line x1="193.80" y1="87.00" x2="238.80" y2="72.00" stroke="#4a4a4a" stroke-width="0.6"/>
<line x1="193.80" y1="87.00" x2="238.80" y2="85.50" stroke="#4a4a4a" stroke-width="0.6"/>
<line x1="193.80" y1="89.30" x2="238.80" y2="87.00" stroke="#4a4a4a" stroke-width="0.6"/>
<line x1="193.80" y1="89.30" x2="238.80" y2="88.50" stroke="#4a4a4a" stroke-width="0.6"/>
<line x1="193.80" y1="90.50" x2="238.80" y2="90.00" stroke="#4a4a4a" stroke-width="0.6"/>
<line x1="193.80" y1="94.00" x2="238.80" y2="91.50" stroke="#4a4a4a" stroke-width="0.6"/>
<line x1="193.80" y1="94.00" x2="238.80" y2="93.00" stroke="#4a4a4a" stroke-width="0.6"/>
<line x1="193.80" y1="95.50" x2="238.80" y2="103.10" stroke="#4a4a4a" stroke-width="0.6"/>
<line x1="193.80" y1="97.00" x2="238.80" y2="94.50" stroke="#4a4a4a" stroke-width="0.6"/>
<line x1="193.80" y1="97.00" x2="238.80" y2="96.00" stroke="#4a4a4a" stroke-width="0.6"/>
<line x1="193.80" y1="99.30" x2="238.80" y2="93.00" stroke="#4a4a4a" stroke-width="0.6"/>
<line x1="193.80" y1="99.30" x2="238.80" y2="90.00" stroke="#4a4a4a" stroke-width="0.6"/>
<line x1="193.80" y1="109.40" x2="238.80" y2="109.40" stroke="#4a4a4a" stroke-width="0.6"/>
<line x1="193.80" y1="80.00" x2="238.80" y2="77.80" stroke="#4a4a4a" stroke-width="0.6"/>
<line x1="193.80" y1="89.30" x2="238.80" y2="85.00" stroke="#4a4a4a" stroke-width="0.6"/>
<line x1="193.80" y1="94.00" x2="238.80" y2="87.00" stroke="#4a4a4a" stroke-width="0.6"/>
<circle cx="193.80" cy="70.50" r="1.75" fill="#111"/>
<circle cx="193.80" cy="75.00" r="1.75" fill="#111"/>
<circle cx="193.80" cy="75.00" r="1.75" fill="#111"/>
<circle cx="193.80" cy="77.50" r="1.75" fill="#111"/>
<circle cx="193.80" cy="80.00" r="1.75" fill="#111"/>
<circle cx="193.80" cy="87.00" r="1.75" fill="#111"/>
<circle cx="193.80" cy="87.00" r="1.75" fill="#111"/>
<circle cx="193.80" cy="89.30" r="1.75" fill="#111"/>
<circle cx="193.80" cy="89.30" r="1.75" fill="#111"/>
<circle cx="193.80" cy="90.50" r="1.75" fill="#111"/>
<circle cx="193.80" cy="94.00" r="1.75" fill="#111"/>
<circle cx="193.80" cy="94.00" r="1.75" fill="#111"/>
<circle cx="193.80" cy="95.50" r="1.75" fill="#111"/>
<circle cx="193.80" cy="97.00" r="1.75" fill="#111"/>
<circle cx="193.80" cy="97.00" r="1.75" fill="#111"/>
<circle cx="193.80" cy="99.30" r="1.75" fill="#111"/>
<circle cx="193.80" cy="99.30" r="1.75" fill="#111"/>
<circle cx="193.80" cy="109.40" r="1.75" fill="#111"/>
<circle cx="193.80" cy="80.00" r="1.75" fill="#111"/>
<circle cx="193.80" cy="89.30" r="1.75" fill="#111"/>
<circle cx="193.80" cy="94.00" r="1.75" fill="#111"/>
<rect x="237.10" y="60.10" width="3.4" height="3.4" fill="#111"/>
<rect x="237.10" y="72.80" width="3.4" height="3.4" fill="#111"/>
<rect x="237.10" y="70.30" width="3.4" height="3.4" fill="#111"/>
<rect x="237.10" y="76.10" width="3.4" height="3.4" fill="#111"/>
<rect x="237.10" y="82.50" width="3.4" height="3.4" fill="#111"/>
<rect x="237.10" y="70.30" width="3.4" height="3.4" fill="#111"/>
<rect x="237.10" y="83.80" width="3.4" height="3.4" fill="#111"/>
<rect x="237.10" y="85.30" width="3.4" height="3.4" fill="#111"/>
<rect x="237.10" y="86.80" width="3.4" height="3.4" fill="#111"/>
<rect x="237.10" y="88.30" width="3.4" height="3.4" fill="#111"/>
<rect x="237.10" y="89.80" width="3.4" height="3.4" fill="#111"/>
<rect x="237.10" y="91.30" width="3.4" height="3.4" fill="#111"/>
<rect x="237.10" y="101.40" width="3.4" height="3.4" fill="#111"/>
<rect x="237.10" y="92.80" width="3.4" height="3.4" fill="#111"/>
<rect x="237.10" y="94.30" width="3.4" height="3.4" fill="#111"/>
<rect x="237.10" y="91.30" width="3.4" height="3.4" fill="#111"/>
<rect x="237.10" y="88.30" width="3.4" height="3.4" fill="#111"/>
<rect x="237.10" y="107.70" width="3.4" height="3.4" fill="#111"/>
<rect x="237.10" y="76.10" width="3.4" height="3.4" fill="#111"/>
<rect x="237.10" y="83.30" width="3.4" height="3.4" fill="#111"/>
<rect x="237.10" y="85.30" width="3.4" height="3.4" fill="#111"/>
<text x="152.83" y="73.45" font-size="7.3" font-weight="bold" stroke="#000" stroke-width="0.3" text-anchor="middle" fill="#000" transform="rotate(-90 152.83 73.45)" textLength="82.90" lengthAdjust="spacingAndGlyphs" dy="0">% AnnexinV/PI +ve cells</text>
<text x="175.70" y="43.70" font-size="7.6" stroke="#000" stroke-width="0.2" text-anchor="start" fill="#000" textLength="15.40" lengthAdjust="spacingAndGlyphs">n=21</text>
<text x="175.00" y="52.50" font-size="7.6" stroke="#000" stroke-width="0.2" text-anchor="start" fill="#000" textLength="28.60" lengthAdjust="spacingAndGlyphs">p=0.0982</text>
<text x="183.90" y="127.80" font-size="6.3" font-weight="bold" stroke="#000" stroke-width="0.28" text-anchor="start" fill="#000" textLength="20.00" lengthAdjust="spacingAndGlyphs">DMSO</text>
<text x="217.80" y="127.80" font-size="6.3" font-weight="bold" stroke="#000" stroke-width="0.28" text-anchor="start" fill="#000" textLength="41.80" lengthAdjust="spacingAndGlyphs">B-PAC-1 2<tspan font-size="75%" dy="0.9">μ</tspan><tspan dy="-0.9">M</tspan></text>
<text x="295.30" y="9.50" font-size="11.8" font-weight="bold" stroke="#000" stroke-width="0.28" text-anchor="start" fill="#000" textLength="7.80" lengthAdjust="spacingAndGlyphs">C</text>
<line x1="293.40" y1="29.90" x2="293.40" y2="118.55" stroke="#222" stroke-width="1.3"/>
<line x1="290.80" y1="117.90" x2="294.05" y2="117.90" stroke="#222" stroke-width="1.3"/>
<text x="288.90" y="119.85" font-size="6.8" font-weight="bold" stroke="#000" stroke-width="0.05" text-anchor="end" fill="#000" textLength="3.40" lengthAdjust="spacingAndGlyphs">0</text>
<line x1="290.80" y1="100.30" x2="294.05" y2="100.30" stroke="#222" stroke-width="1.3"/>
<text x="288.90" y="102.25" font-size="6.8" font-weight="bold" stroke="#000" stroke-width="0.05" text-anchor="end" fill="#000" textLength="6.80" lengthAdjust="spacingAndGlyphs">20</text>
<line x1="290.80" y1="82.70" x2="294.05" y2="82.70" stroke="#222" stroke-width="1.3"/>
<text x="288.90" y="84.65" font-size="6.8" font-weight="bold" stroke="#000" stroke-width="0.05" text-anchor="end" fill="#000" textLength="6.80" lengthAdjust="spacingAndGlyphs">40</text>
<line x1="290.80" y1="65.10" x2="294.05" y2="65.10" stroke="#222" stroke-width="1.3"/>
<text x="288.90" y="67.05" font-size="6.8" font-weight="bold" stroke="#000" stroke-width="0.05" text-anchor="end" fill="#000" textLength="6.80" lengthAdjust="spacingAndGlyphs">60</text>
<line x1="290.80" y1="47.50" x2="294.05" y2="47.50" stroke="#222" stroke-width="1.3"/>
<text x="288.90" y="49.45" font-size="6.8" font-weight="bold" stroke="#000" stroke-width="0.05" text-anchor="end" fill="#000" textLength="6.80" lengthAdjust="spacingAndGlyphs">80</text>
<line x1="290.80" y1="29.90" x2="294.05" y2="29.90" stroke="#222" stroke-width="1.3"/>
<text x="288.90" y="31.85" font-size="6.8" font-weight="bold" stroke="#000" stroke-width="0.05" text-anchor="end" fill="#000" textLength="10.20" lengthAdjust="spacingAndGlyphs">100</text>
<line x1="292.75" y1="117.90" x2="391.80" y2="117.90" stroke="#222" stroke-width="1.3"/>
<line x1="318.20" y1="117.90" x2="318.20" y2="119.90" stroke="#222" stroke-width="0.9"/>
<line x1="366.70" y1="117.90" x2="366.70" y2="119.90" stroke="#222" stroke-width="0.9"/>
<line x1="318.20" y1="76.50" x2="366.70" y2="52.30" stroke="#1e1e1e" stroke-width="0.6"/>
<line x1="318.20" y1="70.10" x2="366.70" y2="59.20" stroke="#1e1e1e" stroke-width="0.6"/>
<line x1="318.20" y1="78.00" x2="366.70" y2="61.04" stroke="#1e1e1e" stroke-width="0.6"/>
<line x1="318.20" y1="79.50" x2="366.70" y2="62.88" stroke="#1e1e1e" stroke-width="0.6"/>
<line x1="318.20" y1="75.00" x2="366.70" y2="64.71" stroke="#1e1e1e" stroke-width="0.6"/>
<line x1="318.20" y1="77.00" x2="366.70" y2="66.55" stroke="#1e1e1e" stroke-width="0.6"/>
<line x1="318.20" y1="81.00" x2="366.70" y2="68.39" stroke="#1e1e1e" stroke-width="0.6"/>
<line x1="318.20" y1="86.50" x2="366.70" y2="70.23" stroke="#1e1e1e" stroke-width="0.6"/>
<line x1="318.20" y1="95.00" x2="366.70" y2="72.07" stroke="#1e1e1e" stroke-width="0.6"/>
<line x1="318.20" y1="98.50" x2="366.70" y2="73.90" stroke="#1e1e1e" stroke-width="0.6"/>
<line x1="318.20" y1="91.00" x2="366.70" y2="75.74" stroke="#1e1e1e" stroke-width="0.6"/>
<line x1="318.20" y1="99.00" x2="366.70" y2="77.58" stroke="#1e1e1e" stroke-width="0.6"/>
<line x1="318.20" y1="100.00" x2="366.70" y2="79.42" stroke="#1e1e1e" stroke-width="0.6"/>
<line x1="318.20" y1="88.00" x2="366.70" y2="81.26" stroke="#1e1e1e" stroke-width="0.6"/>
<line x1="318.20" y1="95.50" x2="366.70" y2="83.10" stroke="#1e1e1e" stroke-width="0.6"/>
<line x1="318.20" y1="97.00" x2="366.70" y2="84.93" stroke="#1e1e1e" stroke-width="0.6"/>
<line x1="318.20" y1="80.00" x2="366.70" y2="86.77" stroke="#1e1e1e" stroke-width="0.6"/>
<line x1="318.20" y1="94.00" x2="366.70" y2="88.61" stroke="#1e1e1e" stroke-width="0.6"/>
<line x1="318.20" y1="89.50" x2="366.70" y2="90.45" stroke="#1e1e1e" stroke-width="0.6"/>
<line x1="318.20" y1="106.90" x2="366.70" y2="92.29" stroke="#1e1e1e" stroke-width="0.6"/>
<line x1="318.20" y1="101.50" x2="366.70" y2="94.12" stroke="#1e1e1e" stroke-width="0.6"/>
<line x1="318.20" y1="103.30" x2="366.70" y2="95.96" stroke="#1e1e1e" stroke-width="0.6"/>
<line x1="318.20" y1="104.50" x2="366.70" y2="97.80" stroke="#1e1e1e" stroke-width="0.6"/>
<line x1="318.20" y1="105.70" x2="366.70" y2="100.60" stroke="#1e1e1e" stroke-width="0.6"/>
<line x1="318.20" y1="110.50" x2="366.70" y2="102.80" stroke="#1e1e1e" stroke-width="0.6"/>
<line x1="318.20" y1="107.00" x2="366.70" y2="105.00" stroke="#1e1e1e" stroke-width="0.6"/>
<line x1="318.20" y1="108.10" x2="366.70" y2="107.40" stroke="#1e1e1e" stroke-width="0.6"/>
<line x1="318.20" y1="109.30" x2="366.70" y2="109.70" stroke="#1e1e1e" stroke-width="0.6"/>
<circle cx="318.20" cy="76.50" r="1.75" fill="#111"/>
<circle cx="318.20" cy="70.10" r="1.75" fill="#111"/>
<circle cx="318.20" cy="78.00" r="1.75" fill="#111"/>
<circle cx="318.20" cy="79.50" r="1.75" fill="#111"/>
<circle cx="318.20" cy="75.00" r="1.75" fill="#111"/>
<circle cx="318.20" cy="77.00" r="1.75" fill="#111"/>
<circle cx="318.20" cy="81.00" r="1.75" fill="#111"/>
<circle cx="318.20" cy="86.50" r="1.75" fill="#111"/>
<circle cx="318.20" cy="95.00" r="1.75" fill="#111"/>
<circle cx="318.20" cy="98.50" r="1.75" fill="#111"/>
<circle cx="318.20" cy="91.00" r="1.75" fill="#111"/>
<circle cx="318.20" cy="99.00" r="1.75" fill="#111"/>
<circle cx="318.20" cy="100.00" r="1.75" fill="#111"/>
<circle cx="318.20" cy="88.00" r="1.75" fill="#111"/>
<circle cx="318.20" cy="95.50" r="1.75" fill="#111"/>
<circle cx="318.20" cy="97.00" r="1.75" fill="#111"/>
<circle cx="318.20" cy="80.00" r="1.75" fill="#111"/>
<circle cx="318.20" cy="94.00" r="1.75" fill="#111"/>
<circle cx="318.20" cy="89.50" r="1.75" fill="#111"/>
<circle cx="318.20" cy="106.90" r="1.75" fill="#111"/>
<circle cx="318.20" cy="101.50" r="1.75" fill="#111"/>
<circle cx="318.20" cy="103.30" r="1.75" fill="#111"/>
<circle cx="318.20" cy="104.50" r="1.75" fill="#111"/>
<circle cx="318.20" cy="105.70" r="1.75" fill="#111"/>
<circle cx="318.20" cy="110.50" r="1.75" fill="#111"/>
<circle cx="318.20" cy="107.00" r="1.75" fill="#111"/>
<circle cx="318.20" cy="108.10" r="1.75" fill="#111"/>
<circle cx="318.20" cy="109.30" r="1.75" fill="#111"/>
<rect x="365.00" y="50.60" width="3.4" height="3.4" fill="#111"/>
<rect x="365.00" y="57.50" width="3.4" height="3.4" fill="#111"/>
<rect x="365.00" y="59.34" width="3.4" height="3.4" fill="#111"/>
<rect x="365.00" y="61.18" width="3.4" height="3.4" fill="#111"/>
<rect x="365.00" y="63.01" width="3.4" height="3.4" fill="#111"/>
<rect x="365.00" y="64.85" width="3.4" height="3.4" fill="#111"/>
<rect x="365.00" y="66.69" width="3.4" height="3.4" fill="#111"/>
<rect x="365.00" y="68.53" width="3.4" height="3.4" fill="#111"/>
<rect x="365.00" y="70.37" width="3.4" height="3.4" fill="#111"/>
<rect x="365.00" y="72.20" width="3.4" height="3.4" fill="#111"/>
<rect x="365.00" y="74.04" width="3.4" height="3.4" fill="#111"/>
<rect x="365.00" y="75.88" width="3.4" height="3.4" fill="#111"/>
<rect x="365.00" y="77.72" width="3.4" height="3.4" fill="#111"/>
<rect x="365.00" y="79.56" width="3.4" height="3.4" fill="#111"/>
<rect x="365.00" y="81.40" width="3.4" height="3.4" fill="#111"/>
<rect x="365.00" y="83.23" width="3.4" height="3.4" fill="#111"/>
<rect x="365.00" y="85.07" width="3.4" height="3.4" fill="#111"/>
<rect x="365.00" y="86.91" width="3.4" height="3.4" fill="#111"/>
<rect x="365.00" y="88.75" width="3.4" height="3.4" fill="#111"/>
<rect x="365.00" y="90.59" width="3.4" height="3.4" fill="#111"/>
<rect x="365.00" y="92.42" width="3.4" height="3.4" fill="#111"/>
<rect x="365.00" y="94.26" width="3.4" height="3.4" fill="#111"/>
<rect x="365.00" y="96.10" width="3.4" height="3.4" fill="#111"/>
<rect x="365.00" y="98.90" width="3.4" height="3.4" fill="#111"/>
<rect x="365.00" y="101.10" width="3.4" height="3.4" fill="#111"/>
<rect x="365.00" y="103.30" width="3.4" height="3.4" fill="#111"/>
<rect x="365.00" y="105.70" width="3.4" height="3.4" fill="#111"/>
<rect x="365.00" y="108.00" width="3.4" height="3.4" fill="#111"/>
<text x="273.36" y="73.50" font-size="7.1" font-weight="bold" stroke="#000" stroke-width="0.0" text-anchor="middle" fill="#000" transform="rotate(-90 273.36 73.50)" textLength="81.60" lengthAdjust="spacingAndGlyphs" dy="0">% AnnexinV/PI +ve cells</text>
<text x="298.00" y="48.00" font-size="7.1" stroke="#000" stroke-width="0.2" text-anchor="start" fill="#000" textLength="16.80" lengthAdjust="spacingAndGlyphs">n=28</text>
<text x="298.50" y="55.20" font-size="7.1" stroke="#000" stroke-width="0.2" text-anchor="start" fill="#000" textLength="31.30" lengthAdjust="spacingAndGlyphs">p&lt;0.0001</text>
<text x="306.60" y="126.90" font-size="6.5" font-weight="bold" stroke="#000" stroke-width="0.28" text-anchor="start" fill="#000" textLength="21.50" lengthAdjust="spacing">DMSO</text>
<text x="343.70" y="126.90" font-size="6.5" font-weight="bold" stroke="#000" stroke-width="0.28" text-anchor="start" fill="#000" textLength="45.20" lengthAdjust="spacing">B-PAC-1 5<tspan font-size="75%" dy="0.9">μ</tspan><tspan dy="-0.9">M</tspan></text>
<text x="435.20" y="9.50" font-size="11.8" font-weight="bold" stroke="#000" stroke-width="0.28" text-anchor="start" fill="#000" textLength="8.00" lengthAdjust="spacingAndGlyphs">D</text>
<line x1="433.20" y1="30.40" x2="433.20" y2="117.55" stroke="#777" stroke-width="1.5"/>
<line x1="430.60" y1="116.80" x2="433.95" y2="116.80" stroke="#777" stroke-width="1.5"/>
<text x="429.40" y="118.35" font-size="5.7" font-weight="bold" stroke="#000" stroke-width="0.28" text-anchor="end" fill="#000" textLength="3.50" lengthAdjust="spacingAndGlyphs">0</text>
<line x1="430.60" y1="99.52" x2="433.95" y2="99.52" stroke="#777" stroke-width="1.5"/>
<text x="429.40" y="101.07" font-size="5.7" font-weight="bold" stroke="#000" stroke-width="0.28" text-anchor="end" fill="#000" textLength="7.00" lengthAdjust="spacingAndGlyphs">20</text>
<line x1="430.60" y1="82.24" x2="433.95" y2="82.24" stroke="#777" stroke-width="1.5"/>
<text x="429.40" y="83.79" font-size="5.7" font-weight="bold" stroke="#000" stroke-width="0.28" text-anchor="end" fill="#000" textLength="7.00" lengthAdjust="spacingAndGlyphs">40</text>
<line x1="430.60" y1="64.96" x2="433.95" y2="64.96" stroke="#777" stroke-width="1.5"/>
<text x="429.40" y="66.51" font-size="5.7" font-weight="bold" stroke="#000" stroke-width="0.28" text-anchor="end" fill="#000" textLength="7.00" lengthAdjust="spacingAndGlyphs">60</text>
<line x1="430.60" y1="47.68" x2="433.95" y2="47.68" stroke="#777" stroke-width="1.5"/>
<text x="429.40" y="49.23" font-size="5.7" font-weight="bold" stroke="#000" stroke-width="0.28" text-anchor="end" fill="#000" textLength="7.00" lengthAdjust="spacingAndGlyphs">80</text>
<line x1="430.60" y1="30.40" x2="433.95" y2="30.40" stroke="#777" stroke-width="1.5"/>
<text x="429.40" y="31.95" font-size="5.7" font-weight="bold" stroke="#000" stroke-width="0.28" text-anchor="end" fill="#000" textLength="10.50" lengthAdjust="spacingAndGlyphs">100</text>
<line x1="432.45" y1="116.80" x2="518.70" y2="116.80" stroke="#777" stroke-width="1.5"/>
<line x1="454.60" y1="116.80" x2="454.60" y2="118.80" stroke="#777" stroke-width="0.9"/>
<line x1="496.80" y1="116.80" x2="496.80" y2="118.80" stroke="#777" stroke-width="0.9"/>
<line x1="454.60" y1="74.20" x2="496.80" y2="39.20" stroke="#4a4a4a" stroke-width="0.6"/>
<line x1="454.60" y1="77.00" x2="496.80" y2="41.20" stroke="#4a4a4a" stroke-width="0.6"/>
<line x1="454.60" y1="75.60" x2="496.80" y2="47.60" stroke="#4a4a4a" stroke-width="0.6"/>
<line x1="454.60" y1="78.40" x2="496.80" y2="49.60" stroke="#4a4a4a" stroke-width="0.6"/>
<line x1="454.60" y1="88.30" x2="496.80" y2="56.00" stroke="#4a4a4a" stroke-width="0.6"/>
<line x1="454.60" y1="85.50" x2="496.80" y2="58.80" stroke="#4a4a4a" stroke-width="0.6"/>
<line x1="454.60" y1="79.90" x2="496.80" y2="61.60" stroke="#4a4a4a" stroke-width="0.6"/>
<line x1="454.60" y1="93.90" x2="496.80" y2="68.10" stroke="#4a4a4a" stroke-width="0.6"/>
<line x1="454.60" y1="95.30" x2="496.80" y2="70.90" stroke="#4a4a4a" stroke-width="0.6"/>
<line x1="454.60" y1="92.50" x2="496.80" y2="78.50" stroke="#4a4a4a" stroke-width="0.6"/>
<line x1="454.60" y1="96.70" x2="496.80" y2="80.00" stroke="#4a4a4a" stroke-width="0.6"/>
<line x1="454.60" y1="86.90" x2="496.80" y2="81.30" stroke="#4a4a4a" stroke-width="0.6"/>
<line x1="454.60" y1="98.10" x2="496.80" y2="83.00" stroke="#4a4a4a" stroke-width="0.6"/>
<line x1="454.60" y1="99.50" x2="496.80" y2="84.10" stroke="#4a4a4a" stroke-width="0.6"/>
<line x1="454.60" y1="100.90" x2="496.80" y2="86.90" stroke="#4a4a4a" stroke-width="0.6"/>
<line x1="454.60" y1="108.50" x2="496.80" y2="98.90" stroke="#4a4a4a" stroke-width="0.6"/>
<circle cx="454.60" cy="74.20" r="1.75" fill="#111"/>
<circle cx="454.60" cy="77.00" r="1.75" fill="#111"/>
<circle cx="454.60" cy="75.60" r="1.75" fill="#111"/>
<circle cx="454.60" cy="78.40" r="1.75" fill="#111"/>
<circle cx="454.60" cy="88.30" r="1.75" fill="#111"/>
<circle cx="454.60" cy="85.50" r="1.75" fill="#111"/>
<circle cx="454.60" cy="79.90" r="1.75" fill="#111"/>
<circle cx="454.60" cy="93.90" r="1.75" fill="#111"/>
<circle cx="454.60" cy="95.30" r="1.75" fill="#111"/>
<circle cx="454.60" cy="92.50" r="1.75" fill="#111"/>
<circle cx="454.60" cy="96.70" r="1.75" fill="#111"/>
<circle cx="454.60" cy="86.90" r="1.75" fill="#111"/>
<circle cx="454.60" cy="98.10" r="1.75" fill="#111"/>
<circle cx="454.60" cy="99.50" r="1.75" fill="#111"/>
<circle cx="454.60" cy="100.90" r="1.75" fill="#111"/>
<circle cx="454.60" cy="108.50" r="1.75" fill="#111"/>
<rect x="495.10" y="37.50" width="3.4" height="3.4" fill="#111"/>
<rect x="495.10" y="39.50" width="3.4" height="3.4" fill="#111"/>
<rect x="495.10" y="45.90" width="3.4" height="3.4" fill="#111"/>
<rect x="495.10" y="47.90" width="3.4" height="3.4" fill="#111"/>
<rect x="495.10" y="54.30" width="3.4" height="3.4" fill="#111"/>
<rect x="495.10" y="57.10" width="3.4" height="3.4" fill="#111"/>
<rect x="495.10" y="59.90" width="3.4" height="3.4" fill="#111"/>
<rect x="495.10" y="66.40" width="3.4" height="3.4" fill="#111"/>
<rect x="495.10" y="69.20" width="3.4" height="3.4" fill="#111"/>
<rect x="495.10" y="76.80" width="3.4" height="3.4" fill="#111"/>
<rect x="495.10" y="78.30" width="3.4" height="3.4" fill="#111"/>
<rect x="495.10" y="79.60" width="3.4" height="3.4" fill="#111"/>
<rect x="495.10" y="81.30" width="3.4" height="3.4" fill="#111"/>
<rect x="495.10" y="82.40" width="3.4" height="3.4" fill="#111"/>
<rect x="495.10" y="85.20" width="3.4" height="3.4" fill="#111"/>
<rect x="495.10" y="97.20" width="3.4" height="3.4" fill="#111"/>
<text x="413.38" y="72.80" font-size="6.9" font-weight="bold" stroke="#000" stroke-width="0.12" text-anchor="middle" fill="#000" transform="rotate(-90 413.38 72.80)" textLength="79.80" lengthAdjust="spacingAndGlyphs" dy="0">% AnnexinV/PI +ve cells</text>
<text x="437.60" y="46.00" font-size="7.0" stroke="#000" stroke-width="0.2" text-anchor="start" fill="#000" textLength="16.80" lengthAdjust="spacingAndGlyphs">n=16</text>
<text x="437.80" y="54.70" font-size="7.0" stroke="#000" stroke-width="0.2" text-anchor="start" fill="#000" textLength="32.00" lengthAdjust="spacingAndGlyphs">p&lt; 0.0001</text>
<text x="443.80" y="125.90" font-size="6.1" font-weight="bold" stroke="#000" stroke-width="0.28" text-anchor="start" fill="#000" textLength="20.40" lengthAdjust="spacingAndGlyphs">DMSO</text>
<text x="475.70" y="125.90" font-size="6.1" font-weight="bold" stroke="#000" stroke-width="0.28" text-anchor="start" fill="#000" textLength="42.00" lengthAdjust="spacingAndGlyphs">B-PAC-1 8<tspan font-size="75%" dy="0.9">μ</tspan><tspan dy="-0.9">M</tspan></text>
<text x="1.90" y="149.30" font-size="11.8" font-weight="bold" stroke="#000" stroke-width="0.28" text-anchor="start" fill="#000" textLength="7.30" lengthAdjust="spacingAndGlyphs">E</text>
<line x1="47.70" y1="149.60" x2="47.70" y2="237.45" stroke="#222" stroke-width="1.3"/>
<line x1="45.10" y1="236.80" x2="48.35" y2="236.80" stroke="#222" stroke-width="1.3"/>
<text x="44.10" y="238.35" font-size="5.7" font-weight="bold" stroke="#000" stroke-width="0.28" text-anchor="end" fill="#000" textLength="3.00" lengthAdjust="spacingAndGlyphs">0</text>
<line x1="45.10" y1="219.36" x2="48.35" y2="219.36" stroke="#222" stroke-width="1.3"/>
<text x="44.10" y="220.91" font-size="5.7" font-weight="bold" stroke="#000" stroke-width="0.28" text-anchor="end" fill="#000" textLength="6.00" lengthAdjust="spacingAndGlyphs">20</text>
<line x1="45.10" y1="201.92" x2="48.35" y2="201.92" stroke="#222" stroke-width="1.3"/>
<text x="44.10" y="203.47" font-size="5.7" font-weight="bold" stroke="#000" stroke-width="0.28" text-anchor="end" fill="#000" textLength="6.00" lengthAdjust="spacingAndGlyphs">40</text>
<line x1="45.10" y1="184.48" x2="48.35" y2="184.48" stroke="#222" stroke-width="1.3"/>
<text x="44.10" y="186.03" font-size="5.7" font-weight="bold" stroke="#000" stroke-width="0.28" text-anchor="end" fill="#000" textLength="6.00" lengthAdjust="spacingAndGlyphs">60</text>
<line x1="45.10" y1="167.04" x2="48.35" y2="167.04" stroke="#222" stroke-width="1.3"/>
<text x="44.10" y="168.59" font-size="5.7" font-weight="bold" stroke="#000" stroke-width="0.28" text-anchor="end" fill="#000" textLength="6.00" lengthAdjust="spacingAndGlyphs">80</text>
<line x1="45.10" y1="149.60" x2="48.35" y2="149.60" stroke="#222" stroke-width="1.3"/>
<text x="44.10" y="151.15" font-size="5.7" font-weight="bold" stroke="#000" stroke-width="0.28" text-anchor="end" fill="#000" textLength="9.00" lengthAdjust="spacingAndGlyphs">100</text>
<line x1="47.05" y1="236.80" x2="127.60" y2="236.80" stroke="#222" stroke-width="1.3"/>
<line x1="67.50" y1="236.80" x2="67.50" y2="238.80" stroke="#222" stroke-width="0.9"/>
<line x1="107.40" y1="236.80" x2="107.40" y2="238.80" stroke="#222" stroke-width="0.9"/>
<line x1="67.50" y1="194.00" x2="107.40" y2="152.60" stroke="#2e2e2e" stroke-width="0.6"/>
<line x1="67.50" y1="196.00" x2="107.40" y2="153.93" stroke="#2e2e2e" stroke-width="0.6"/>
<line x1="67.50" y1="204.80" x2="107.40" y2="155.26" stroke="#2e2e2e" stroke-width="0.6"/>
<line x1="67.50" y1="205.62" x2="107.40" y2="156.60" stroke="#2e2e2e" stroke-width="0.6"/>
<line x1="67.50" y1="189.60" x2="107.40" y2="157.93" stroke="#2e2e2e" stroke-width="0.6"/>
<line x1="67.50" y1="198.00" x2="107.40" y2="159.26" stroke="#2e2e2e" stroke-width="0.6"/>
<line x1="67.50" y1="211.36" x2="107.40" y2="160.59" stroke="#2e2e2e" stroke-width="0.6"/>
<line x1="67.50" y1="206.44" x2="107.40" y2="161.92" stroke="#2e2e2e" stroke-width="0.6"/>
<line x1="67.50" y1="208.90" x2="107.40" y2="163.26" stroke="#2e2e2e" stroke-width="0.6"/>
<line x1="67.50" y1="201.00" x2="107.40" y2="164.59" stroke="#2e2e2e" stroke-width="0.6"/>
<line x1="67.50" y1="208.08" x2="107.40" y2="165.92" stroke="#2e2e2e" stroke-width="0.6"/>
<line x1="67.50" y1="209.72" x2="107.40" y2="167.25" stroke="#2e2e2e" stroke-width="0.6"/>
<line x1="67.50" y1="216.28" x2="107.40" y2="168.58" stroke="#2e2e2e" stroke-width="0.6"/>
<line x1="67.50" y1="192.00" x2="107.40" y2="169.92" stroke="#2e2e2e" stroke-width="0.6"/>
<line x1="67.50" y1="210.54" x2="107.40" y2="171.25" stroke="#2e2e2e" stroke-width="0.6"/>
<line x1="67.50" y1="212.18" x2="107.40" y2="172.58" stroke="#2e2e2e" stroke-width="0.6"/>
<line x1="67.50" y1="207.26" x2="107.40" y2="173.91" stroke="#2e2e2e" stroke-width="0.6"/>
<line x1="67.50" y1="214.64" x2="107.40" y2="175.24" stroke="#2e2e2e" stroke-width="0.6"/>
<line x1="67.50" y1="218.74" x2="107.40" y2="176.58" stroke="#2e2e2e" stroke-width="0.6"/>
<line x1="67.50" y1="213.00" x2="107.40" y2="177.91" stroke="#2e2e2e" stroke-width="0.6"/>
<line x1="67.50" y1="200.00" x2="107.40" y2="179.24" stroke="#2e2e2e" stroke-width="0.6"/>
<line x1="67.50" y1="225.30" x2="107.40" y2="180.57" stroke="#2e2e2e" stroke-width="0.6"/>
<line x1="67.50" y1="221.20" x2="107.40" y2="181.90" stroke="#2e2e2e" stroke-width="0.6"/>
<line x1="67.50" y1="217.92" x2="107.40" y2="183.24" stroke="#2e2e2e" stroke-width="0.6"/>
<line x1="67.50" y1="219.56" x2="107.40" y2="184.57" stroke="#2e2e2e" stroke-width="0.6"/>
<line x1="67.50" y1="226.94" x2="107.40" y2="185.90" stroke="#2e2e2e" stroke-width="0.6"/>
<line x1="67.50" y1="215.46" x2="107.40" y2="189.20" stroke="#2e2e2e" stroke-width="0.6"/>
<line x1="67.50" y1="217.10" x2="107.40" y2="190.67" stroke="#2e2e2e" stroke-width="0.6"/>
<line x1="67.50" y1="213.82" x2="107.40" y2="192.14" stroke="#2e2e2e" stroke-width="0.6"/>
<line x1="67.50" y1="220.38" x2="107.40" y2="193.61" stroke="#2e2e2e" stroke-width="0.6"/>
<line x1="67.50" y1="226.12" x2="107.40" y2="195.09" stroke="#2e2e2e" stroke-width="0.6"/>
<line x1="67.50" y1="228.58" x2="107.40" y2="196.56" stroke="#2e2e2e" stroke-width="0.6"/>
<line x1="67.50" y1="222.02" x2="107.40" y2="198.03" stroke="#2e2e2e" stroke-width="0.6"/>
<line x1="67.50" y1="229.40" x2="107.40" y2="199.50" stroke="#2e2e2e" stroke-width="0.6"/>
<line x1="67.50" y1="222.84" x2="107.40" y2="206.40" stroke="#2e2e2e" stroke-width="0.6"/>
<line x1="67.50" y1="227.76" x2="107.40" y2="208.50" stroke="#2e2e2e" stroke-width="0.6"/>
<line x1="67.50" y1="223.66" x2="107.40" y2="210.50" stroke="#2e2e2e" stroke-width="0.6"/>
<line x1="67.50" y1="224.48" x2="107.40" y2="212.60" stroke="#2e2e2e" stroke-width="0.6"/>
<circle cx="67.50" cy="194.00" r="1.75" fill="#111"/>
<circle cx="67.50" cy="196.00" r="1.75" fill="#111"/>
<circle cx="67.50" cy="204.80" r="1.75" fill="#111"/>
<circle cx="67.50" cy="205.62" r="1.75" fill="#111"/>
<circle cx="67.50" cy="189.60" r="1.75" fill="#111"/>
<circle cx="67.50" cy="198.00" r="1.75" fill="#111"/>
<circle cx="67.50" cy="211.36" r="1.75" fill="#111"/>
<circle cx="67.50" cy="206.44" r="1.75" fill="#111"/>
<circle cx="67.50" cy="208.90" r="1.75" fill="#111"/>
<circle cx="67.50" cy="201.00" r="1.75" fill="#111"/>
<circle cx="67.50" cy="208.08" r="1.75" fill="#111"/>
<circle cx="67.50" cy="209.72" r="1.75" fill="#111"/>
<circle cx="67.50" cy="216.28" r="1.75" fill="#111"/>
<circle cx="67.50" cy="192.00" r="1.75" fill="#111"/>
<circle cx="67.50" cy="210.54" r="1.75" fill="#111"/>
<circle cx="67.50" cy="212.18" r="1.75" fill="#111"/>
<circle cx="67.50" cy="207.26" r="1.75" fill="#111"/>
<circle cx="67.50" cy="214.64" r="1.75" fill="#111"/>
<circle cx="67.50" cy="218.74" r="1.75" fill="#111"/>
<circle cx="67.50" cy="213.00" r="1.75" fill="#111"/>
<circle cx="67.50" cy="200.00" r="1.75" fill="#111"/>
<circle cx="67.50" cy="225.30" r="1.75" fill="#111"/>
<circle cx="67.50" cy="221.20" r="1.75" fill="#111"/>
<circle cx="67.50" cy="217.92" r="1.75" fill="#111"/>
<circle cx="67.50" cy="219.56" r="1.75" fill="#111"/>
<circle cx="67.50" cy="226.94" r="1.75" fill="#111"/>
<circle cx="67.50" cy="215.46" r="1.75" fill="#111"/>
<circle cx="67.50" cy="217.10" r="1.75" fill="#111"/>
<circle cx="67.50" cy="213.82" r="1.75" fill="#111"/>
<circle cx="67.50" cy="220.38" r="1.75" fill="#111"/>
<circle cx="67.50" cy="226.12" r="1.75" fill="#111"/>
<circle cx="67.50" cy="228.58" r="1.75" fill="#111"/>
<circle cx="67.50" cy="222.02" r="1.75" fill="#111"/>
<circle cx="67.50" cy="229.40" r="1.75" fill="#111"/>
<circle cx="67.50" cy="222.84" r="1.75" fill="#111"/>
<circle cx="67.50" cy="227.76" r="1.75" fill="#111"/>
<circle cx="67.50" cy="223.66" r="1.75" fill="#111"/>
<circle cx="67.50" cy="224.48" r="1.75" fill="#111"/>
<rect x="105.70" y="150.90" width="3.4" height="3.4" fill="#111"/>
<rect x="105.70" y="152.23" width="3.4" height="3.4" fill="#111"/>
<rect x="105.70" y="153.56" width="3.4" height="3.4" fill="#111"/>
<rect x="105.70" y="154.90" width="3.4" height="3.4" fill="#111"/>
<rect x="105.70" y="156.23" width="3.4" height="3.4" fill="#111"/>
<rect x="105.70" y="157.56" width="3.4" height="3.4" fill="#111"/>
<rect x="105.70" y="158.89" width="3.4" height="3.4" fill="#111"/>
<rect x="105.70" y="160.22" width="3.4" height="3.4" fill="#111"/>
<rect x="105.70" y="161.56" width="3.4" height="3.4" fill="#111"/>
<rect x="105.70" y="162.89" width="3.4" height="3.4" fill="#111"/>
<rect x="105.70" y="164.22" width="3.4" height="3.4" fill="#111"/>
<rect x="105.70" y="165.55" width="3.4" height="3.4" fill="#111"/>
<rect x="105.70" y="166.88" width="3.4" height="3.4" fill="#111"/>
<rect x="105.70" y="168.22" width="3.4" height="3.4" fill="#111"/>
<rect x="105.70" y="169.55" width="3.4" height="3.4" fill="#111"/>
<rect x="105.70" y="170.88" width="3.4" height="3.4" fill="#111"/>
<rect x="105.70" y="172.21" width="3.4" height="3.4" fill="#111"/>
<rect x="105.70" y="173.54" width="3.4" height="3.4" fill="#111"/>
<rect x="105.70" y="174.88" width="3.4" height="3.4" fill="#111"/>
<rect x="105.70" y="176.21" width="3.4" height="3.4" fill="#111"/>
<rect x="105.70" y="177.54" width="3.4" height="3.4" fill="#111"/>
<rect x="105.70" y="178.87" width="3.4" height="3.4" fill="#111"/>
<rect x="105.70" y="180.20" width="3.4" height="3.4" fill="#111"/>
<rect x="105.70" y="181.54" width="3.4" height="3.4" fill="#111"/>
<rect x="105.70" y="182.87" width="3.4" height="3.4" fill="#111"/>
<rect x="105.70" y="184.20" width="3.4" height="3.4" fill="#111"/>
<rect x="105.70" y="187.50" width="3.4" height="3.4" fill="#111"/>
<rect x="105.70" y="188.97" width="3.4" height="3.4" fill="#111"/>
<rect x="105.70" y="190.44" width="3.4" height="3.4" fill="#111"/>
<rect x="105.70" y="191.91" width="3.4" height="3.4" fill="#111"/>
<rect x="105.70" y="193.39" width="3.4" height="3.4" fill="#111"/>
<rect x="105.70" y="194.86" width="3.4" height="3.4" fill="#111"/>
<rect x="105.70" y="196.33" width="3.4" height="3.4" fill="#111"/>
<rect x="105.70" y="197.80" width="3.4" height="3.4" fill="#111"/>
<rect x="105.70" y="204.70" width="3.4" height="3.4" fill="#111"/>
<rect x="105.70" y="206.80" width="3.4" height="3.4" fill="#111"/>
<rect x="105.70" y="208.80" width="3.4" height="3.4" fill="#111"/>
<rect x="105.70" y="210.90" width="3.4" height="3.4" fill="#111"/>
<text x="21.06" y="193.85" font-size="7.1" font-weight="bold" stroke="#000" stroke-width="0.3" text-anchor="middle" fill="#000" transform="rotate(-90 21.06 193.85)" textLength="77.50" lengthAdjust="spacingAndGlyphs" dy="0">% Annexin/PI +ve cells</text>
<text x="55.60" y="162.50" font-size="7.0" stroke="#000" stroke-width="0.2" text-anchor="start" fill="#000" textLength="16.80" lengthAdjust="spacingAndGlyphs">n=38</text>
<text x="54.70" y="171.60" font-size="7.0" stroke="#000" stroke-width="0.2" text-anchor="start" fill="#000" textLength="31.60" lengthAdjust="spacingAndGlyphs">p&lt; 0.0001</text>
<text x="56.90" y="246.80" font-size="6.0" font-weight="bold" stroke="#000" stroke-width="0.28" text-anchor="start" fill="#000" textLength="19.30" lengthAdjust="spacingAndGlyphs">DMSO</text>
<text x="83.70" y="246.80" font-size="6.0" font-weight="bold" stroke="#000" stroke-width="0.28" text-anchor="start" fill="#000" textLength="46.90" lengthAdjust="spacingAndGlyphs">B-PAC-1 10<tspan font-size="75%" dy="0.9">μ</tspan><tspan dy="-0.9">M</tspan></text>
<text x="145.20" y="149.40" font-size="11.8" font-weight="bold" stroke="#000" stroke-width="0.28" text-anchor="start" fill="#000" textLength="6.90" lengthAdjust="spacingAndGlyphs">F</text>
<line x1="179.60" y1="150.40" x2="179.60" y2="238.45" stroke="#222" stroke-width="1.3"/>
<line x1="177.00" y1="237.80" x2="180.25" y2="237.80" stroke="#222" stroke-width="1.3"/>
<text x="176.20" y="239.35" font-size="5.7" font-weight="bold" stroke="#000" stroke-width="0.28" text-anchor="end" fill="#000" textLength="3.13" lengthAdjust="spacingAndGlyphs">0</text>
<line x1="177.00" y1="220.32" x2="180.25" y2="220.32" stroke="#222" stroke-width="1.3"/>
<text x="176.20" y="221.87" font-size="5.7" font-weight="bold" stroke="#000" stroke-width="0.28" text-anchor="end" fill="#000" textLength="6.27" lengthAdjust="spacingAndGlyphs">20</text>
<line x1="177.00" y1="202.84" x2="180.25" y2="202.84" stroke="#222" stroke-width="1.3"/>
<text x="176.20" y="204.39" font-size="5.7" font-weight="bold" stroke="#000" stroke-width="0.28" text-anchor="end" fill="#000" textLength="6.27" lengthAdjust="spacingAndGlyphs">40</text>
<line x1="177.00" y1="185.36" x2="180.25" y2="185.36" stroke="#222" stroke-width="1.3"/>
<text x="176.20" y="186.91" font-size="5.7" font-weight="bold" stroke="#000" stroke-width="0.28" text-anchor="end" fill="#000" textLength="6.27" lengthAdjust="spacingAndGlyphs">60</text>
<line x1="177.00" y1="167.88" x2="180.25" y2="167.88" stroke="#222" stroke-width="1.3"/>
<text x="176.20" y="169.43" font-size="5.7" font-weight="bold" stroke="#000" stroke-width="0.28" text-anchor="end" fill="#000" textLength="6.27" lengthAdjust="spacingAndGlyphs">80</text>
<line x1="177.00" y1="150.40" x2="180.25" y2="150.40" stroke="#222" stroke-width="1.3"/>
<text x="176.20" y="151.95" font-size="5.7" font-weight="bold" stroke="#000" stroke-width="0.28" text-anchor="end" fill="#000" textLength="9.40" lengthAdjust="spacingAndGlyphs">100</text>
<line x1="178.95" y1="237.80" x2="258.00" y2="237.80" stroke="#222" stroke-width="1.3"/>
<line x1="199.30" y1="237.80" x2="199.30" y2="239.80" stroke="#222" stroke-width="0.9"/>
<line x1="238.00" y1="237.80" x2="238.00" y2="239.80" stroke="#222" stroke-width="0.9"/>
<line x1="199.30" y1="196.50" x2="238.00" y2="153.20" stroke="#333" stroke-width="0.6"/>
<line x1="199.30" y1="222.10" x2="238.00" y2="154.16" stroke="#333" stroke-width="0.6"/>
<line x1="199.30" y1="194.90" x2="238.00" y2="155.13" stroke="#333" stroke-width="0.6"/>
<line x1="199.30" y1="189.50" x2="238.00" y2="156.09" stroke="#333" stroke-width="0.6"/>
<line x1="199.30" y1="207.40" x2="238.00" y2="157.05" stroke="#333" stroke-width="0.6"/>
<line x1="199.30" y1="220.50" x2="238.00" y2="158.02" stroke="#333" stroke-width="0.6"/>
<line x1="199.30" y1="209.00" x2="238.00" y2="158.98" stroke="#333" stroke-width="0.6"/>
<line x1="199.30" y1="210.70" x2="238.00" y2="159.94" stroke="#333" stroke-width="0.6"/>
<line x1="199.30" y1="198.20" x2="238.00" y2="160.91" stroke="#333" stroke-width="0.6"/>
<line x1="199.30" y1="217.20" x2="238.00" y2="161.87" stroke="#333" stroke-width="0.6"/>
<line x1="199.30" y1="218.90" x2="238.00" y2="162.83" stroke="#333" stroke-width="0.6"/>
<line x1="199.30" y1="221.30" x2="238.00" y2="163.79" stroke="#333" stroke-width="0.6"/>
<line x1="199.30" y1="215.60" x2="238.00" y2="164.76" stroke="#333" stroke-width="0.6"/>
<line x1="199.30" y1="213.50" x2="238.00" y2="165.72" stroke="#333" stroke-width="0.6"/>
<line x1="199.30" y1="216.40" x2="238.00" y2="166.68" stroke="#333" stroke-width="0.6"/>
<line x1="199.30" y1="225.40" x2="238.00" y2="167.65" stroke="#333" stroke-width="0.6"/>
<line x1="199.30" y1="229.70" x2="238.00" y2="168.61" stroke="#333" stroke-width="0.6"/>
<line x1="199.30" y1="226.50" x2="238.00" y2="169.57" stroke="#333" stroke-width="0.6"/>
<line x1="199.30" y1="231.00" x2="238.00" y2="170.54" stroke="#333" stroke-width="0.6"/>
<line x1="199.30" y1="227.50" x2="238.00" y2="171.50" stroke="#333" stroke-width="0.6"/>
<line x1="199.30" y1="223.70" x2="238.00" y2="178.00" stroke="#333" stroke-width="0.6"/>
<circle cx="199.30" cy="196.50" r="1.75" fill="#111"/>
<circle cx="199.30" cy="222.10" r="1.75" fill="#111"/>
<circle cx="199.30" cy="194.90" r="1.75" fill="#111"/>
<circle cx="199.30" cy="189.50" r="1.75" fill="#111"/>
<circle cx="199.30" cy="207.40" r="1.75" fill="#111"/>
<circle cx="199.30" cy="220.50" r="1.75" fill="#111"/>
<circle cx="199.30" cy="209.00" r="1.75" fill="#111"/>
<circle cx="199.30" cy="210.70" r="1.75" fill="#111"/>
<circle cx="199.30" cy="198.20" r="1.75" fill="#111"/>
<circle cx="199.30" cy="217.20" r="1.75" fill="#111"/>
<circle cx="199.30" cy="218.90" r="1.75" fill="#111"/>
<circle cx="199.30" cy="221.30" r="1.75" fill="#111"/>
<circle cx="199.30" cy="215.60" r="1.75" fill="#111"/>
<circle cx="199.30" cy="213.50" r="1.75" fill="#111"/>
<circle cx="199.30" cy="216.40" r="1.75" fill="#111"/>
<circle cx="199.30" cy="225.40" r="1.75" fill="#111"/>
<circle cx="199.30" cy="229.70" r="1.75" fill="#111"/>
<circle cx="199.30" cy="226.50" r="1.75" fill="#111"/>
<circle cx="199.30" cy="231.00" r="1.75" fill="#111"/>
<circle cx="199.30" cy="227.50" r="1.75" fill="#111"/>
<circle cx="199.30" cy="223.70" r="1.75" fill="#111"/>
<rect x="236.30" y="151.50" width="3.4" height="3.4" fill="#111"/>
<rect x="236.30" y="152.46" width="3.4" height="3.4" fill="#111"/>
<rect x="236.30" y="153.43" width="3.4" height="3.4" fill="#111"/>
<rect x="236.30" y="154.39" width="3.4" height="3.4" fill="#111"/>
<rect x="236.30" y="155.35" width="3.4" height="3.4" fill="#111"/>
<rect x="236.30" y="156.32" width="3.4" height="3.4" fill="#111"/>
<rect x="236.30" y="157.28" width="3.4" height="3.4" fill="#111"/>
<rect x="236.30" y="158.24" width="3.4" height="3.4" fill="#111"/>
<rect x="236.30" y="159.21" width="3.4" height="3.4" fill="#111"/>
<rect x="236.30" y="160.17" width="3.4" height="3.4" fill="#111"/>
<rect x="236.30" y="161.13" width="3.4" height="3.4" fill="#111"/>
<rect x="236.30" y="162.09" width="3.4" height="3.4" fill="#111"/>
<rect x="236.30" y="163.06" width="3.4" height="3.4" fill="#111"/>
<rect x="236.30" y="164.02" width="3.4" height="3.4" fill="#111"/>
<rect x="236.30" y="164.98" width="3.4" height="3.4" fill="#111"/>
<rect x="236.30" y="165.95" width="3.4" height="3.4" fill="#111"/>
<rect x="236.30" y="166.91" width="3.4" height="3.4" fill="#111"/>
<rect x="236.30" y="167.87" width="3.4" height="3.4" fill="#111"/>
<rect x="236.30" y="168.84" width="3.4" height="3.4" fill="#111"/>
<rect x="236.30" y="169.80" width="3.4" height="3.4" fill="#111"/>
<rect x="236.30" y="176.30" width="3.4" height="3.4" fill="#111"/>
<text x="157.16" y="193.85" font-size="7.1" font-weight="bold" stroke="#000" stroke-width="0.3" text-anchor="middle" fill="#000" transform="rotate(-90 157.16 193.85)" textLength="77.90" lengthAdjust="spacingAndGlyphs" dy="0">% Annexin/PI +ve cells</text>
<text x="184.60" y="165.50" font-size="7.0" stroke="#000" stroke-width="0.2" text-anchor="start" fill="#000" textLength="14.90" lengthAdjust="spacingAndGlyphs">n=21</text>
<text x="184.20" y="175.30" font-size="7.0" stroke="#000" stroke-width="0.2" text-anchor="start" fill="#000" textLength="30.20" lengthAdjust="spacingAndGlyphs">p&lt; 0.0001</text>
<text x="188.90" y="247.10" font-size="6.1" font-weight="bold" stroke="#000" stroke-width="0.28" text-anchor="start" fill="#000" textLength="19.70" lengthAdjust="spacingAndGlyphs">DMSO</text>
<text x="215.90" y="247.10" font-size="6.1" font-weight="bold" stroke="#000" stroke-width="0.28" text-anchor="start" fill="#000" textLength="41.90" lengthAdjust="spacingAndGlyphs">B-PAC-1 20<tspan font-size="75%" dy="0.9">μ</tspan><tspan dy="-0.9">M</tspan></text>
<text x="319.60" y="150.30" font-size="11.2" font-weight="bold" stroke="#000" stroke-width="0.28" text-anchor="start" fill="#000" textLength="7.80" lengthAdjust="spacingAndGlyphs">G</text>
<line x1="345.60" y1="153.50" x2="345.60" y2="255.20" stroke="#222" stroke-width="1.2"/>
<line x1="343.00" y1="250.00" x2="345.60" y2="250.00" stroke="#222" stroke-width="1.2"/>
<text x="342.60" y="252.50" font-size="5.0" font-weight="bold" stroke="#000" stroke-width="0.28" text-anchor="end" fill="#000" textLength="3.40" lengthAdjust="spacingAndGlyphs">0</text>
<line x1="343.00" y1="230.70" x2="345.60" y2="230.70" stroke="#222" stroke-width="1.2"/>
<text x="342.60" y="233.20" font-size="5.0" font-weight="bold" stroke="#000" stroke-width="0.28" text-anchor="end" fill="#000" textLength="6.80" lengthAdjust="spacingAndGlyphs">20</text>
<line x1="343.00" y1="211.40" x2="345.60" y2="211.40" stroke="#222" stroke-width="1.2"/>
<text x="342.60" y="213.90" font-size="5.0" font-weight="bold" stroke="#000" stroke-width="0.28" text-anchor="end" fill="#000" textLength="6.80" lengthAdjust="spacingAndGlyphs">40</text>
<line x1="343.00" y1="192.10" x2="345.60" y2="192.10" stroke="#222" stroke-width="1.2"/>
<text x="342.60" y="194.60" font-size="5.0" font-weight="bold" stroke="#000" stroke-width="0.28" text-anchor="end" fill="#000" textLength="6.80" lengthAdjust="spacingAndGlyphs">60</text>
<line x1="343.00" y1="172.80" x2="345.60" y2="172.80" stroke="#222" stroke-width="1.2"/>
<text x="342.60" y="175.30" font-size="5.0" font-weight="bold" stroke="#000" stroke-width="0.28" text-anchor="end" fill="#000" textLength="6.80" lengthAdjust="spacingAndGlyphs">80</text>
<line x1="343.00" y1="153.50" x2="345.60" y2="153.50" stroke="#222" stroke-width="1.2"/>
<text x="342.60" y="156.00" font-size="5.0" font-weight="bold" stroke="#000" stroke-width="0.28" text-anchor="end" fill="#000" textLength="10.20" lengthAdjust="spacingAndGlyphs">100</text>
<line x1="345.00" y1="254.70" x2="494.50" y2="254.70" stroke="#222" stroke-width="1.3"/>
<line x1="370.50" y1="254.70" x2="370.50" y2="256.60" stroke="#222" stroke-width="0.9"/>
<line x1="419.80" y1="254.70" x2="419.80" y2="256.60" stroke="#222" stroke-width="0.9"/>
<line x1="469.50" y1="254.70" x2="469.50" y2="256.60" stroke="#222" stroke-width="0.9"/>
<text x="323.86" y="204.05" font-size="7.4" font-weight="bold" stroke="#000" stroke-width="0.0" text-anchor="middle" fill="#000" transform="rotate(-90 323.86 204.05)" textLength="81.50" lengthAdjust="spacingAndGlyphs" dy="0">% Annexin/PI +ve cells</text>
<line x1="354.20" y1="230.00" x2="386.50" y2="230.00" stroke="#2a2a2a" stroke-width="1.1"/>
<circle cx="370.50" cy="218.50" r="1.7" fill="#111"/>
<circle cx="373.00" cy="223.80" r="1.7" fill="#111"/>
<circle cx="368.30" cy="226.20" r="1.7" fill="#111"/>
<circle cx="368.30" cy="233.60" r="1.7" fill="#111"/>
<circle cx="373.00" cy="235.40" r="1.7" fill="#111"/>
<circle cx="370.50" cy="246.20" r="1.7" fill="#111"/>
<line x1="403.30" y1="220.20" x2="436.20" y2="220.20" stroke="#2a2a2a" stroke-width="1.1"/>
<rect x="417.90" y="199.40" width="3.4" height="3.4" fill="#111"/>
<rect x="420.10" y="202.50" width="3.4" height="3.4" fill="#111"/>
<rect x="415.50" y="207.20" width="2.80" height="2.80" fill="#fff" stroke="#111" stroke-width="1.0"/>
<rect x="415.20" y="230.10" width="3.4" height="3.4" fill="#111"/>
<rect x="420.40" y="233.70" width="2.80" height="2.80" fill="#fff" stroke="#111" stroke-width="1.0"/>
<rect x="418.20" y="248.90" width="2.80" height="2.80" fill="#fff" stroke="#111" stroke-width="1.0"/>
<line x1="453.00" y1="191.60" x2="485.60" y2="191.60" stroke="#2a2a2a" stroke-width="1.1"/>
<path d="M461.90,161.19L463.85,164.70L459.95,164.70Z" fill="#111"/>
<path d="M466.70,162.29L468.65,165.80L464.75,165.80Z" fill="#111"/>
<path d="M471.30,164.49L473.25,168.00L469.35,168.00Z" fill="#111"/>
<path d="M476.20,162.29L478.15,165.80L474.25,165.80Z" fill="#111"/>
<path d="M454.90,168.39L456.85,171.90L452.95,171.90Z" fill="#111"/>
<path d="M459.50,170.59L461.45,174.10L457.55,174.10Z" fill="#111"/>
<path d="M464.40,170.59L466.35,174.10L462.45,174.10Z" fill="#111"/>
<path d="M469.30,172.19L471.25,175.70L467.35,175.70Z" fill="#111"/>
<path d="M473.80,172.19L475.75,175.70L471.85,175.70Z" fill="#111"/>
<path d="M478.70,170.59L480.65,174.10L476.75,174.10Z" fill="#111"/>
<path d="M483.30,168.59L485.25,172.10L481.35,172.10Z" fill="#111"/>
<path d="M466.90,174.69L468.85,178.20L464.95,178.20Z" fill="#111"/>
<path d="M471.30,178.29L473.25,181.80L469.35,181.80Z" fill="#111"/>
<path d="M464.40,182.59L466.35,186.10L462.45,186.10Z" fill="#111"/>
<path d="M469.30,183.69L471.25,187.20L467.35,187.20Z" fill="#111"/>
<path d="M473.80,183.39L475.75,186.90L471.85,186.90Z" fill="#111"/>
<path d="M478.70,186.19L480.65,189.70L476.75,189.70Z" fill="#111"/>
<path d="M459.50,187.29L461.45,190.80L457.55,190.80Z" fill="#111"/>
<path d="M464.40,190.79L466.35,194.30L462.45,194.30Z" fill="#111"/>
<path d="M469.30,190.79L471.25,194.30L467.35,194.30Z" fill="#111"/>
<path d="M473.80,190.29L475.75,193.80L471.85,193.80Z" fill="#111"/>
<path d="M471.30,195.69L473.25,199.20L469.35,199.20Z" fill="#111"/>
<path d="M466.70,199.29L468.65,202.80L464.75,202.80Z" fill="#111"/>
<path d="M464.10,204.29L466.05,207.80L462.15,207.80Z" fill="#111"/>
<path d="M469.10,205.69L471.05,209.20L467.15,209.20Z" fill="#111"/>
<path d="M474.10,204.29L476.05,207.80L472.15,207.80Z" fill="#111"/>
<path d="M476.10,206.29L478.05,209.80L474.15,209.80Z" fill="#111"/>
<path d="M462.10,207.99L464.05,211.50L460.15,211.50Z" fill="#111"/>
<path d="M466.70,210.99L468.65,214.50L464.75,214.50Z" fill="#111"/>
<path d="M471.50,209.79L473.45,213.30L469.55,213.30Z" fill="#111"/>
<path d="M474.10,214.99L476.05,218.50L472.15,218.50Z" fill="#111"/>
<path d="M462.10,216.99L464.05,220.50L460.15,220.50Z" fill="#111"/>
<path d="M464.50,219.99L466.45,223.50L462.55,223.50Z" fill="#111"/>
<path d="M469.10,218.39L471.05,221.90L467.15,221.90Z" fill="#111"/>
<path d="M474.10,222.39L476.05,225.90L472.15,225.90Z" fill="#111"/>
<path d="M469.10,223.79L471.05,227.30L467.15,227.30Z" fill="#111"/>
<path d="M469.10,231.09L471.05,234.60L467.15,234.60Z" fill="#111"/>
<path d="M469.10,241.89L471.05,245.40L467.15,245.40Z" fill="#111"/>
<text x="358.80" y="264.00" font-size="6.3" font-weight="bold" stroke="#000" stroke-width="0.28" text-anchor="start" fill="#000" textLength="23.20" lengthAdjust="spacingAndGlyphs">PBMCs</text>
<text x="409.30" y="264.00" font-size="6.3" font-weight="bold" stroke="#000" stroke-width="0.28" text-anchor="start" fill="#000" textLength="20.40" lengthAdjust="spacingAndGlyphs">B cells</text>
<text x="454.80" y="264.00" font-size="6.3" font-weight="bold" stroke="#000" stroke-width="0.28" text-anchor="start" fill="#000" textLength="28.50" lengthAdjust="spacingAndGlyphs">CLL cells</text>
<text x="338.80" y="272.40" font-size="7.4" stroke="#000" stroke-width="0.2" text-anchor="start" fill="#000" textLength="3.40" lengthAdjust="spacingAndGlyphs">n</text>
<text x="368.40" y="272.40" font-size="7.8" stroke="#000" stroke-width="0.2" text-anchor="start" fill="#000" textLength="4.70" lengthAdjust="spacingAndGlyphs">6</text>
<text x="415.80" y="272.40" font-size="7.8" stroke="#000" stroke-width="0.2" text-anchor="start" fill="#000" textLength="4.70" lengthAdjust="spacingAndGlyphs">6</text>
<text x="465.60" y="272.40" font-size="7.8" stroke="#000" stroke-width="0.2" text-anchor="start" fill="#000" textLength="8.60" lengthAdjust="spacingAndGlyphs">38</text>
</svg>
</body></html>
